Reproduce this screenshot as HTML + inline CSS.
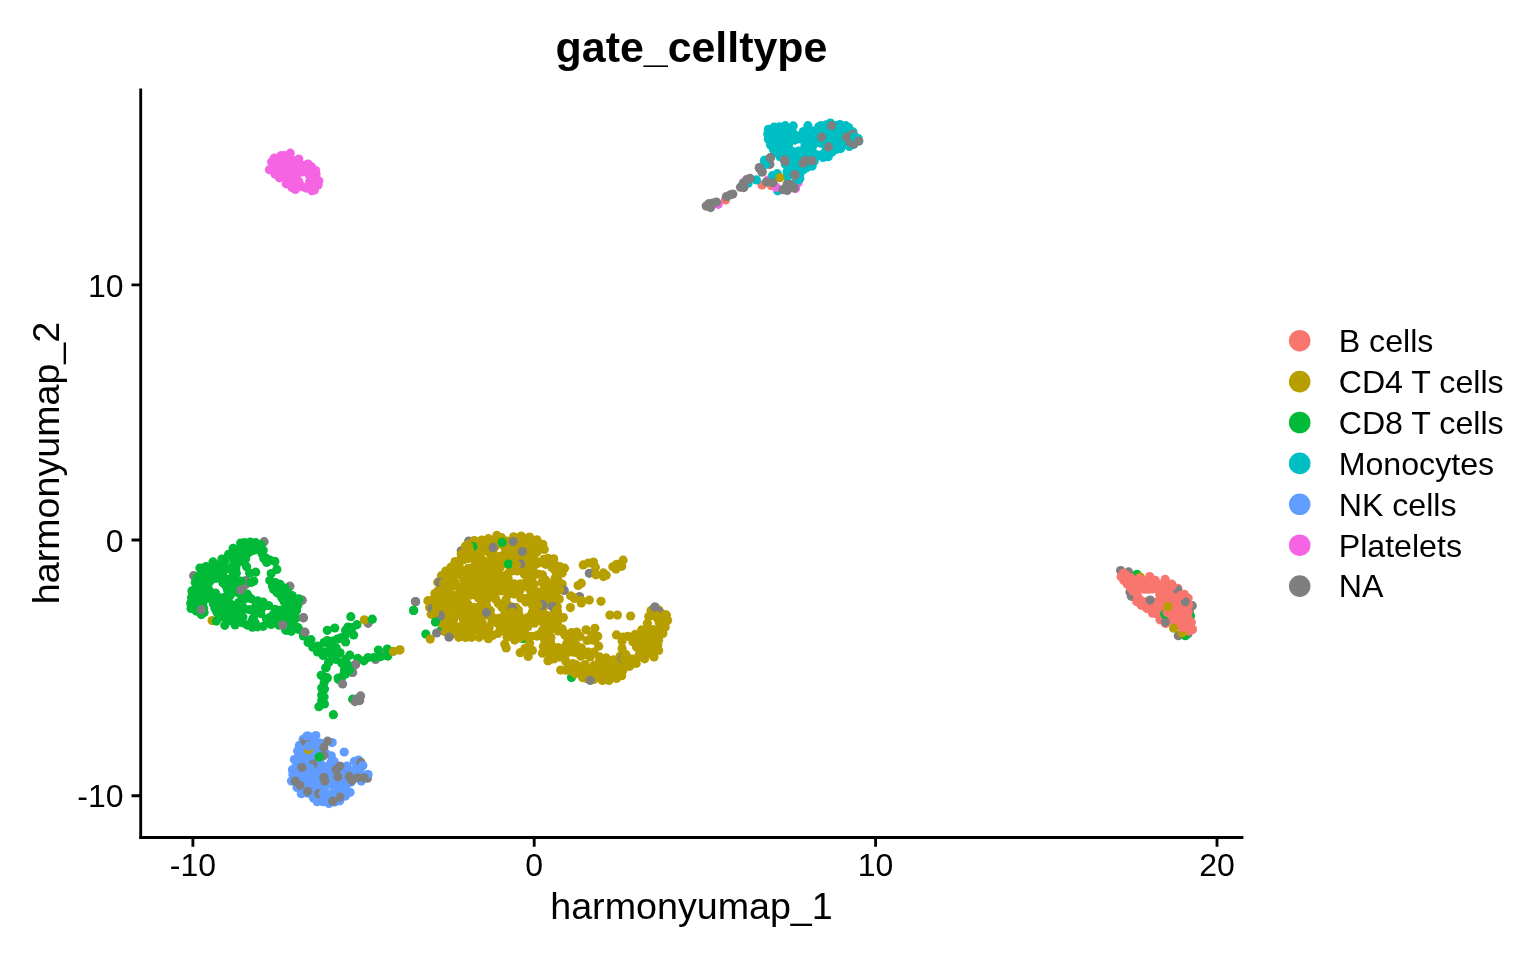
<!DOCTYPE html>
<html><head><meta charset="utf-8"><title>gate_celltype</title>
<style>
html,body{margin:0;padding:0;background:#fff;}
body{width:1536px;height:960px;overflow:hidden;position:relative;font-family:"Liberation Sans",sans-serif;color:#000;}
svg{position:absolute;left:0;top:0;}
text{font-family:"Liberation Sans",sans-serif;fill:#000;}
.tk{font-size:32px;}
.ax{font-size:37.65px;}
.lg{font-size:32.15px;}
.ttl{font-size:42.9px;font-weight:bold;}
</style></head><body>
<svg width="1536" height="960" viewBox="0 0 1536 960">
<rect width="1536" height="960" fill="#fff"/>
<g id="points">
<circle cx="292.2" cy="176.4" r="4.6" fill="#F564E3"/>
<circle cx="292.5" cy="169.0" r="4.6" fill="#F564E3"/>
<circle cx="312.6" cy="182.0" r="4.6" fill="#F564E3"/>
<circle cx="312.1" cy="173.5" r="4.6" fill="#F564E3"/>
<circle cx="316.1" cy="174.1" r="4.6" fill="#F564E3"/>
<circle cx="288.5" cy="169.2" r="4.6" fill="#F564E3"/>
<circle cx="282.7" cy="177.1" r="4.6" fill="#F564E3"/>
<circle cx="292.4" cy="161.4" r="4.6" fill="#F564E3"/>
<circle cx="289.4" cy="156.6" r="4.6" fill="#F564E3"/>
<circle cx="280.9" cy="164.1" r="4.6" fill="#F564E3"/>
<circle cx="294.4" cy="181.3" r="4.6" fill="#F564E3"/>
<circle cx="290.3" cy="153.2" r="4.6" fill="#F564E3"/>
<circle cx="298.8" cy="159.1" r="4.6" fill="#F564E3"/>
<circle cx="275.1" cy="168.0" r="4.6" fill="#F564E3"/>
<circle cx="290.8" cy="173.9" r="4.6" fill="#F564E3"/>
<circle cx="286.2" cy="183.8" r="4.6" fill="#F564E3"/>
<circle cx="311.6" cy="166.9" r="4.6" fill="#F564E3"/>
<circle cx="295.9" cy="170.1" r="4.6" fill="#F564E3"/>
<circle cx="298.8" cy="181.4" r="4.6" fill="#F564E3"/>
<circle cx="301.9" cy="186.6" r="4.6" fill="#F564E3"/>
<circle cx="294.4" cy="164.4" r="4.6" fill="#F564E3"/>
<circle cx="301.7" cy="168.5" r="4.6" fill="#F564E3"/>
<circle cx="295.9" cy="160.6" r="4.6" fill="#F564E3"/>
<circle cx="280.1" cy="173.4" r="4.6" fill="#F564E3"/>
<circle cx="309.6" cy="182.0" r="4.6" fill="#F564E3"/>
<circle cx="276.3" cy="164.9" r="4.6" fill="#F564E3"/>
<circle cx="286.3" cy="173.9" r="4.6" fill="#F564E3"/>
<circle cx="295.3" cy="189.4" r="4.6" fill="#F564E3"/>
<circle cx="282.7" cy="161.4" r="4.6" fill="#F564E3"/>
<circle cx="294.1" cy="174.0" r="4.6" fill="#F564E3"/>
<circle cx="274.4" cy="158.1" r="4.6" fill="#F564E3"/>
<circle cx="314.5" cy="177.7" r="4.6" fill="#F564E3"/>
<circle cx="302.7" cy="172.0" r="4.6" fill="#F564E3"/>
<circle cx="306.2" cy="169.1" r="4.6" fill="#F564E3"/>
<circle cx="311.9" cy="190.8" r="4.6" fill="#F564E3"/>
<circle cx="279.4" cy="161.6" r="4.6" fill="#F564E3"/>
<circle cx="315.6" cy="170.6" r="4.6" fill="#F564E3"/>
<circle cx="288.7" cy="162.0" r="4.6" fill="#F564E3"/>
<circle cx="308.1" cy="164.1" r="4.6" fill="#F564E3"/>
<circle cx="281.2" cy="155.6" r="4.6" fill="#F564E3"/>
<circle cx="318.8" cy="180.9" r="4.6" fill="#F564E3"/>
<circle cx="304.5" cy="165.3" r="4.6" fill="#F564E3"/>
<circle cx="279.3" cy="170.0" r="4.6" fill="#F564E3"/>
<circle cx="314.4" cy="190.0" r="4.6" fill="#F564E3"/>
<circle cx="284.4" cy="165.7" r="4.6" fill="#F564E3"/>
<circle cx="296.0" cy="178.1" r="4.6" fill="#F564E3"/>
<circle cx="279.4" cy="177.8" r="4.6" fill="#F564E3"/>
<circle cx="271.6" cy="161.9" r="4.6" fill="#F564E3"/>
<circle cx="318.1" cy="185.0" r="4.6" fill="#F564E3"/>
<circle cx="309.1" cy="172.6" r="4.6" fill="#F564E3"/>
<circle cx="309.6" cy="176.0" r="4.6" fill="#F564E3"/>
<circle cx="275.0" cy="161.0" r="4.6" fill="#F564E3"/>
<circle cx="275.0" cy="174.1" r="4.6" fill="#F564E3"/>
<circle cx="286.6" cy="176.9" r="4.6" fill="#F564E3"/>
<circle cx="291.2" cy="165.4" r="4.6" fill="#F564E3"/>
<circle cx="284.1" cy="169.8" r="4.6" fill="#F564E3"/>
<circle cx="297.5" cy="185.1" r="4.6" fill="#F564E3"/>
<circle cx="299.7" cy="172.2" r="4.6" fill="#F564E3"/>
<circle cx="310.6" cy="184.4" r="4.6" fill="#F564E3"/>
<circle cx="291.9" cy="187.5" r="4.6" fill="#F564E3"/>
<circle cx="299.3" cy="166.4" r="4.6" fill="#F564E3"/>
<circle cx="289.4" cy="181.5" r="4.6" fill="#F564E3"/>
<circle cx="314.4" cy="185.5" r="4.6" fill="#F564E3"/>
<circle cx="285.0" cy="155.6" r="4.6" fill="#F564E3"/>
<circle cx="269.4" cy="169.7" r="4.6" fill="#F564E3"/>
<circle cx="306.2" cy="188.1" r="4.6" fill="#F564E3"/>
<circle cx="801.2" cy="138.8" r="4.6" fill="#7F7F7F"/>
<circle cx="807.0" cy="147.2" r="4.6" fill="#7F7F7F"/>
<circle cx="769.9" cy="164.3" r="4.6" fill="#7F7F7F"/>
<circle cx="768.9" cy="163.9" r="4.6" fill="#7F7F7F"/>
<circle cx="748.1" cy="183.2" r="4.6" fill="#00BFC4"/>
<circle cx="777.7" cy="190.8" r="4.6" fill="#00BFC4"/>
<circle cx="725.5" cy="199.9" r="4.6" fill="#F8766D"/>
<circle cx="762.0" cy="185.0" r="4.6" fill="#F8766D"/>
<circle cx="771.5" cy="185.7" r="4.6" fill="#F8766D"/>
<circle cx="718.2" cy="204.3" r="4.6" fill="#F564E3"/>
<circle cx="746.8" cy="179.3" r="4.6" fill="#F564E3"/>
<circle cx="767.8" cy="180.0" r="4.6" fill="#F564E3"/>
<circle cx="776.2" cy="187.2" r="4.6" fill="#F564E3"/>
<circle cx="798.1" cy="182.8" r="4.6" fill="#F564E3"/>
<circle cx="795.5" cy="188.6" r="4.6" fill="#F564E3"/>
<circle cx="854.6" cy="140.0" r="4.6" fill="#00BFC4"/>
<circle cx="818.7" cy="126.8" r="4.6" fill="#00BFC4"/>
<circle cx="767.7" cy="134.1" r="4.6" fill="#00BFC4"/>
<circle cx="846.7" cy="131.8" r="4.6" fill="#00BFC4"/>
<circle cx="814.3" cy="161.0" r="4.6" fill="#00BFC4"/>
<circle cx="836.2" cy="149.4" r="4.6" fill="#00BFC4"/>
<circle cx="792.2" cy="166.5" r="4.6" fill="#00BFC4"/>
<circle cx="826.0" cy="124.9" r="4.6" fill="#00BFC4"/>
<circle cx="780.3" cy="143.7" r="4.6" fill="#00BFC4"/>
<circle cx="814.3" cy="153.8" r="4.6" fill="#00BFC4"/>
<circle cx="810.4" cy="142.3" r="4.6" fill="#00BFC4"/>
<circle cx="810.2" cy="134.8" r="4.6" fill="#00BFC4"/>
<circle cx="780.9" cy="131.2" r="4.6" fill="#00BFC4"/>
<circle cx="773.5" cy="149.4" r="4.6" fill="#00BFC4"/>
<circle cx="796.8" cy="180.0" r="4.6" fill="#00BFC4"/>
<circle cx="800.4" cy="163.2" r="4.6" fill="#00BFC4"/>
<circle cx="787.4" cy="175.6" r="4.6" fill="#00BFC4"/>
<circle cx="835.5" cy="130.4" r="4.6" fill="#00BFC4"/>
<circle cx="833.2" cy="133.9" r="4.6" fill="#00BFC4"/>
<circle cx="808.1" cy="148.0" r="4.6" fill="#00BFC4"/>
<circle cx="791.1" cy="163.8" r="4.6" fill="#00BFC4"/>
<circle cx="779.8" cy="134.5" r="4.6" fill="#00BFC4"/>
<circle cx="797.9" cy="158.8" r="4.6" fill="#00BFC4"/>
<circle cx="828.0" cy="139.1" r="4.6" fill="#00BFC4"/>
<circle cx="842.7" cy="143.2" r="4.6" fill="#00BFC4"/>
<circle cx="792.3" cy="151.3" r="4.6" fill="#00BFC4"/>
<circle cx="780.5" cy="146.5" r="4.6" fill="#00BFC4"/>
<circle cx="852.1" cy="136.2" r="4.6" fill="#00BFC4"/>
<circle cx="806.1" cy="143.6" r="4.6" fill="#00BFC4"/>
<circle cx="802.6" cy="151.4" r="4.6" fill="#00BFC4"/>
<circle cx="801.2" cy="135.2" r="4.6" fill="#00BFC4"/>
<circle cx="770.6" cy="145.0" r="4.6" fill="#00BFC4"/>
<circle cx="794.8" cy="140.1" r="4.6" fill="#00BFC4"/>
<circle cx="784.8" cy="152.1" r="4.6" fill="#00BFC4"/>
<circle cx="796.0" cy="154.0" r="4.6" fill="#00BFC4"/>
<circle cx="803.3" cy="166.0" r="4.6" fill="#00BFC4"/>
<circle cx="768.4" cy="139.2" r="4.6" fill="#00BFC4"/>
<circle cx="788.1" cy="158.6" r="4.6" fill="#00BFC4"/>
<circle cx="780.4" cy="138.6" r="4.6" fill="#00BFC4"/>
<circle cx="773.4" cy="133.9" r="4.6" fill="#00BFC4"/>
<circle cx="826.8" cy="147.6" r="4.6" fill="#00BFC4"/>
<circle cx="791.3" cy="131.9" r="4.6" fill="#00BFC4"/>
<circle cx="853.0" cy="131.9" r="4.6" fill="#00BFC4"/>
<circle cx="803.9" cy="137.9" r="4.6" fill="#00BFC4"/>
<circle cx="783.4" cy="142.4" r="4.6" fill="#00BFC4"/>
<circle cx="830.0" cy="135.8" r="4.6" fill="#00BFC4"/>
<circle cx="807.9" cy="125.7" r="4.6" fill="#00BFC4"/>
<circle cx="839.9" cy="124.6" r="4.6" fill="#00BFC4"/>
<circle cx="787.2" cy="129.9" r="4.6" fill="#00BFC4"/>
<circle cx="782.8" cy="135.4" r="4.6" fill="#00BFC4"/>
<circle cx="785.2" cy="125.7" r="4.6" fill="#00BFC4"/>
<circle cx="807.0" cy="167.6" r="4.6" fill="#00BFC4"/>
<circle cx="788.8" cy="143.9" r="4.6" fill="#00BFC4"/>
<circle cx="786.1" cy="155.9" r="4.6" fill="#00BFC4"/>
<circle cx="845.0" cy="144.3" r="4.6" fill="#00BFC4"/>
<circle cx="787.0" cy="162.5" r="4.6" fill="#00BFC4"/>
<circle cx="825.2" cy="134.4" r="4.6" fill="#00BFC4"/>
<circle cx="825.5" cy="151.4" r="4.6" fill="#00BFC4"/>
<circle cx="811.8" cy="130.8" r="4.6" fill="#00BFC4"/>
<circle cx="810.9" cy="150.4" r="4.6" fill="#00BFC4"/>
<circle cx="847.2" cy="141.9" r="4.6" fill="#00BFC4"/>
<circle cx="805.1" cy="156.2" r="4.6" fill="#00BFC4"/>
<circle cx="840.1" cy="144.0" r="4.6" fill="#00BFC4"/>
<circle cx="858.1" cy="138.4" r="4.6" fill="#00BFC4"/>
<circle cx="850.0" cy="139.1" r="4.6" fill="#00BFC4"/>
<circle cx="840.6" cy="148.6" r="4.6" fill="#00BFC4"/>
<circle cx="810.0" cy="138.0" r="4.6" fill="#00BFC4"/>
<circle cx="790.2" cy="139.9" r="4.6" fill="#00BFC4"/>
<circle cx="788.1" cy="168.3" r="4.6" fill="#00BFC4"/>
<circle cx="823.8" cy="154.1" r="4.6" fill="#00BFC4"/>
<circle cx="768.4" cy="129.3" r="4.6" fill="#00BFC4"/>
<circle cx="774.2" cy="127.1" r="4.6" fill="#00BFC4"/>
<circle cx="789.5" cy="150.1" r="4.6" fill="#00BFC4"/>
<circle cx="817.2" cy="131.1" r="4.6" fill="#00BFC4"/>
<circle cx="799.0" cy="170.9" r="4.6" fill="#00BFC4"/>
<circle cx="830.4" cy="123.1" r="4.6" fill="#00BFC4"/>
<circle cx="842.8" cy="135.6" r="4.6" fill="#00BFC4"/>
<circle cx="835.2" cy="143.3" r="4.6" fill="#00BFC4"/>
<circle cx="810.2" cy="163.1" r="4.6" fill="#00BFC4"/>
<circle cx="812.1" cy="166.1" r="4.6" fill="#00BFC4"/>
<circle cx="836.0" cy="139.5" r="4.6" fill="#00BFC4"/>
<circle cx="812.6" cy="146.4" r="4.6" fill="#00BFC4"/>
<circle cx="829.8" cy="126.9" r="4.6" fill="#00BFC4"/>
<circle cx="838.1" cy="135.6" r="4.6" fill="#00BFC4"/>
<circle cx="819.6" cy="136.0" r="4.6" fill="#00BFC4"/>
<circle cx="832.3" cy="131.0" r="4.6" fill="#00BFC4"/>
<circle cx="799.8" cy="174.2" r="4.6" fill="#00BFC4"/>
<circle cx="819.4" cy="155.2" r="4.6" fill="#00BFC4"/>
<circle cx="844.9" cy="139.5" r="4.6" fill="#00BFC4"/>
<circle cx="858.8" cy="141.0" r="4.6" fill="#00BFC4"/>
<circle cx="796.7" cy="167.9" r="4.6" fill="#00BFC4"/>
<circle cx="822.5" cy="130.7" r="4.6" fill="#00BFC4"/>
<circle cx="795.9" cy="172.1" r="4.6" fill="#00BFC4"/>
<circle cx="809.8" cy="154.6" r="4.6" fill="#00BFC4"/>
<circle cx="772.3" cy="132.2" r="4.6" fill="#00BFC4"/>
<circle cx="828.2" cy="156.7" r="4.6" fill="#00BFC4"/>
<circle cx="798.7" cy="151.1" r="4.6" fill="#00BFC4"/>
<circle cx="853.7" cy="144.3" r="4.6" fill="#00BFC4"/>
<circle cx="823.7" cy="140.2" r="4.6" fill="#00BFC4"/>
<circle cx="829.4" cy="142.5" r="4.6" fill="#00BFC4"/>
<circle cx="836.2" cy="125.7" r="4.6" fill="#00BFC4"/>
<circle cx="802.3" cy="157.9" r="4.6" fill="#00BFC4"/>
<circle cx="800.5" cy="138.9" r="4.6" fill="#00BFC4"/>
<circle cx="777.1" cy="153.0" r="4.6" fill="#00BFC4"/>
<circle cx="808.0" cy="132.0" r="4.6" fill="#00BFC4"/>
<circle cx="800.9" cy="154.2" r="4.6" fill="#00BFC4"/>
<circle cx="792.4" cy="157.8" r="4.6" fill="#00BFC4"/>
<circle cx="826.0" cy="142.7" r="4.6" fill="#00BFC4"/>
<circle cx="795.0" cy="163.4" r="4.6" fill="#00BFC4"/>
<circle cx="831.8" cy="138.7" r="4.6" fill="#00BFC4"/>
<circle cx="806.2" cy="151.1" r="4.6" fill="#00BFC4"/>
<circle cx="793.2" cy="125.9" r="4.6" fill="#00BFC4"/>
<circle cx="814.4" cy="140.2" r="4.6" fill="#00BFC4"/>
<circle cx="789.8" cy="155.0" r="4.6" fill="#00BFC4"/>
<circle cx="773.8" cy="142.6" r="4.6" fill="#00BFC4"/>
<circle cx="805.3" cy="163.9" r="4.6" fill="#00BFC4"/>
<circle cx="779.3" cy="126.8" r="4.6" fill="#00BFC4"/>
<circle cx="848.6" cy="135.2" r="4.6" fill="#00BFC4"/>
<circle cx="792.7" cy="174.7" r="4.6" fill="#00BFC4"/>
<circle cx="797.3" cy="175.8" r="4.6" fill="#00BFC4"/>
<circle cx="793.9" cy="134.1" r="4.6" fill="#00BFC4"/>
<circle cx="849.3" cy="146.5" r="4.6" fill="#00BFC4"/>
<circle cx="820.9" cy="125.7" r="4.6" fill="#00BFC4"/>
<circle cx="778.7" cy="150.0" r="4.6" fill="#00BFC4"/>
<circle cx="790.8" cy="172.0" r="4.6" fill="#00BFC4"/>
<circle cx="810.5" cy="158.4" r="4.6" fill="#00BFC4"/>
<circle cx="837.9" cy="127.6" r="4.6" fill="#00BFC4"/>
<circle cx="827.6" cy="131.4" r="4.6" fill="#00BFC4"/>
<circle cx="831.8" cy="152.3" r="4.6" fill="#00BFC4"/>
<circle cx="845.7" cy="125.7" r="4.6" fill="#00BFC4"/>
<circle cx="772.0" cy="139.2" r="4.6" fill="#00BFC4"/>
<circle cx="777.1" cy="131.0" r="4.6" fill="#00BFC4"/>
<circle cx="823.1" cy="157.4" r="4.6" fill="#00BFC4"/>
<circle cx="840.5" cy="131.3" r="4.6" fill="#00BFC4"/>
<circle cx="817.0" cy="142.4" r="4.6" fill="#00BFC4"/>
<circle cx="776.4" cy="139.4" r="4.6" fill="#00BFC4"/>
<circle cx="841.1" cy="138.3" r="4.6" fill="#00BFC4"/>
<circle cx="787.0" cy="147.2" r="4.6" fill="#00BFC4"/>
<circle cx="806.4" cy="158.1" r="4.6" fill="#00BFC4"/>
<circle cx="803.4" cy="169.8" r="4.6" fill="#00BFC4"/>
<circle cx="785.2" cy="164.0" r="4.6" fill="#00BFC4"/>
<circle cx="784.6" cy="158.9" r="4.6" fill="#00BFC4"/>
<circle cx="831.1" cy="148.0" r="4.6" fill="#00BFC4"/>
<circle cx="788.0" cy="134.0" r="4.6" fill="#00BFC4"/>
<circle cx="799.8" cy="178.5" r="4.6" fill="#00BFC4"/>
<circle cx="804.9" cy="146.0" r="4.6" fill="#00BFC4"/>
<circle cx="780.1" cy="156.7" r="4.6" fill="#00BFC4"/>
<circle cx="848.6" cy="127.5" r="4.6" fill="#00BFC4"/>
<circle cx="825.2" cy="127.8" r="4.6" fill="#00BFC4"/>
<circle cx="806.3" cy="135.0" r="4.6" fill="#00BFC4"/>
<circle cx="770.4" cy="134.1" r="4.6" fill="#00BFC4"/>
<circle cx="777.0" cy="146.4" r="4.6" fill="#00BFC4"/>
<circle cx="787.2" cy="140.0" r="4.6" fill="#00BFC4"/>
<circle cx="821.2" cy="143.3" r="4.6" fill="#00BFC4"/>
<circle cx="803.4" cy="131.5" r="4.6" fill="#00BFC4"/>
<circle cx="764.5" cy="160.2" r="4.6" fill="#00BFC4"/>
<circle cx="765.3" cy="164.6" r="4.6" fill="#00BFC4"/>
<circle cx="763.1" cy="166.0" r="4.6" fill="#00BFC4"/>
<circle cx="756.5" cy="179.9" r="4.6" fill="#00BFC4"/>
<circle cx="772.6" cy="175.5" r="4.6" fill="#00BFC4"/>
<circle cx="777.3" cy="173.7" r="4.6" fill="#00BFC4"/>
<circle cx="787.1" cy="177.0" r="4.6" fill="#00BFC4"/>
<circle cx="798.1" cy="179.9" r="4.6" fill="#00BFC4"/>
<circle cx="790.8" cy="174.1" r="4.6" fill="#00BFC4"/>
<circle cx="787.1" cy="171.9" r="4.6" fill="#00BFC4"/>
<circle cx="779.9" cy="177.7" r="4.6" fill="#B79F00"/>
<circle cx="831.5" cy="125.7" r="4.6" fill="#7F7F7F"/>
<circle cx="821.6" cy="137.1" r="4.6" fill="#7F7F7F"/>
<circle cx="828.4" cy="146.8" r="4.6" fill="#7F7F7F"/>
<circle cx="846.4" cy="137.0" r="4.6" fill="#7F7F7F"/>
<circle cx="853.0" cy="134.1" r="4.6" fill="#7F7F7F"/>
<circle cx="850.1" cy="142.1" r="4.6" fill="#7F7F7F"/>
<circle cx="853.7" cy="143.9" r="4.6" fill="#7F7F7F"/>
<circle cx="784.4" cy="160.3" r="4.6" fill="#7F7F7F"/>
<circle cx="785.2" cy="161.4" r="4.6" fill="#7F7F7F"/>
<circle cx="812.1" cy="160.7" r="4.6" fill="#7F7F7F"/>
<circle cx="805.6" cy="160.3" r="4.6" fill="#7F7F7F"/>
<circle cx="803.0" cy="163.2" r="4.6" fill="#7F7F7F"/>
<circle cx="795.0" cy="174.5" r="4.6" fill="#7F7F7F"/>
<circle cx="770.4" cy="157.8" r="4.6" fill="#7F7F7F"/>
<circle cx="759.3" cy="167.6" r="4.6" fill="#7F7F7F"/>
<circle cx="762.2" cy="172.0" r="4.6" fill="#7F7F7F"/>
<circle cx="854.8" cy="137.0" r="4.6" fill="#00BFC4"/>
<circle cx="858.7" cy="141.0" r="4.6" fill="#7F7F7F"/>
<circle cx="706.2" cy="206.1" r="4.6" fill="#7F7F7F"/>
<circle cx="710.6" cy="207.6" r="4.6" fill="#7F7F7F"/>
<circle cx="712.8" cy="203.2" r="4.6" fill="#7F7F7F"/>
<circle cx="709.1" cy="203.6" r="4.6" fill="#7F7F7F"/>
<circle cx="716.4" cy="202.1" r="4.6" fill="#7F7F7F"/>
<circle cx="726.3" cy="196.7" r="4.6" fill="#7F7F7F"/>
<circle cx="730.3" cy="194.8" r="4.6" fill="#7F7F7F"/>
<circle cx="732.8" cy="194.1" r="4.6" fill="#7F7F7F"/>
<circle cx="740.5" cy="187.2" r="4.6" fill="#7F7F7F"/>
<circle cx="743.8" cy="187.6" r="4.6" fill="#7F7F7F"/>
<circle cx="743.4" cy="182.8" r="4.6" fill="#7F7F7F"/>
<circle cx="747.0" cy="179.9" r="4.6" fill="#7F7F7F"/>
<circle cx="750.0" cy="178.4" r="4.6" fill="#7F7F7F"/>
<circle cx="759.4" cy="168.2" r="4.6" fill="#7F7F7F"/>
<circle cx="762.0" cy="171.9" r="4.6" fill="#7F7F7F"/>
<circle cx="770.4" cy="157.7" r="4.6" fill="#7F7F7F"/>
<circle cx="766.4" cy="182.1" r="4.6" fill="#7F7F7F"/>
<circle cx="772.9" cy="182.8" r="4.6" fill="#7F7F7F"/>
<circle cx="784.6" cy="159.8" r="4.6" fill="#7F7F7F"/>
<circle cx="803.9" cy="162.0" r="4.6" fill="#7F7F7F"/>
<circle cx="794.8" cy="175.2" r="4.6" fill="#7F7F7F"/>
<circle cx="782.8" cy="189.7" r="4.6" fill="#7F7F7F"/>
<circle cx="787.1" cy="190.5" r="4.6" fill="#7F7F7F"/>
<circle cx="790.8" cy="184.3" r="4.6" fill="#7F7F7F"/>
<circle cx="794.4" cy="187.9" r="4.6" fill="#7F7F7F"/>
<circle cx="789.3" cy="187.9" r="4.6" fill="#7F7F7F"/>
<circle cx="787.1" cy="184.3" r="4.6" fill="#7F7F7F"/>
<circle cx="1120.6" cy="570.5" r="4.6" fill="#7F7F7F"/>
<circle cx="1128.6" cy="571.9" r="4.6" fill="#7F7F7F"/>
<circle cx="1130.0" cy="592.1" r="4.6" fill="#7F7F7F"/>
<circle cx="1131.4" cy="596.3" r="4.6" fill="#7F7F7F"/>
<circle cx="1140.3" cy="603.8" r="4.6" fill="#7F7F7F"/>
<circle cx="1192.3" cy="605.7" r="4.6" fill="#7F7F7F"/>
<circle cx="1189.5" cy="612.2" r="4.6" fill="#7F7F7F"/>
<circle cx="1175.0" cy="621.6" r="4.6" fill="#7F7F7F"/>
<circle cx="1178.3" cy="635.7" r="4.6" fill="#7F7F7F"/>
<circle cx="1188.1" cy="633.8" r="4.6" fill="#7F7F7F"/>
<circle cx="1137.0" cy="574.3" r="4.6" fill="#00BA38"/>
<circle cx="1190.5" cy="616.0" r="4.6" fill="#00BA38"/>
<circle cx="1164.7" cy="614.1" r="4.6" fill="#00BA38"/>
<circle cx="1185.3" cy="635.7" r="4.6" fill="#00BA38"/>
<circle cx="1140.3" cy="577.1" r="4.6" fill="#B79F00"/>
<circle cx="1184.8" cy="624.9" r="4.6" fill="#B79F00"/>
<circle cx="1170.1" cy="602.0" r="4.6" fill="#F8766D"/>
<circle cx="1130.3" cy="581.1" r="4.6" fill="#F8766D"/>
<circle cx="1130.9" cy="577.6" r="4.6" fill="#F8766D"/>
<circle cx="1188.1" cy="598.2" r="4.6" fill="#F8766D"/>
<circle cx="1177.8" cy="588.3" r="4.6" fill="#F8766D"/>
<circle cx="1147.6" cy="604.6" r="4.6" fill="#F8766D"/>
<circle cx="1152.1" cy="609.3" r="4.6" fill="#F8766D"/>
<circle cx="1149.7" cy="576.6" r="4.6" fill="#F8766D"/>
<circle cx="1172.4" cy="612.2" r="4.6" fill="#F8766D"/>
<circle cx="1170.3" cy="586.0" r="4.6" fill="#F8766D"/>
<circle cx="1154.5" cy="605.0" r="4.6" fill="#F8766D"/>
<circle cx="1179.4" cy="617.1" r="4.6" fill="#F8766D"/>
<circle cx="1127.2" cy="584.1" r="4.6" fill="#F8766D"/>
<circle cx="1177.3" cy="596.9" r="4.6" fill="#F8766D"/>
<circle cx="1162.5" cy="614.1" r="4.6" fill="#F8766D"/>
<circle cx="1151.1" cy="585.6" r="4.6" fill="#F8766D"/>
<circle cx="1172.1" cy="598.1" r="4.6" fill="#F8766D"/>
<circle cx="1144.6" cy="589.2" r="4.6" fill="#F8766D"/>
<circle cx="1164.3" cy="608.6" r="4.6" fill="#F8766D"/>
<circle cx="1188.6" cy="604.8" r="4.6" fill="#F8766D"/>
<circle cx="1165.2" cy="579.4" r="4.6" fill="#F8766D"/>
<circle cx="1188.1" cy="631.0" r="4.6" fill="#F8766D"/>
<circle cx="1163.8" cy="602.1" r="4.6" fill="#F8766D"/>
<circle cx="1171.9" cy="590.0" r="4.6" fill="#F8766D"/>
<circle cx="1191.4" cy="622.6" r="4.6" fill="#F8766D"/>
<circle cx="1155.3" cy="580.4" r="4.6" fill="#F8766D"/>
<circle cx="1165.4" cy="593.1" r="4.6" fill="#F8766D"/>
<circle cx="1173.6" cy="601.5" r="4.6" fill="#F8766D"/>
<circle cx="1159.7" cy="594.3" r="4.6" fill="#F8766D"/>
<circle cx="1141.4" cy="605.3" r="4.6" fill="#F8766D"/>
<circle cx="1184.5" cy="605.6" r="4.6" fill="#F8766D"/>
<circle cx="1185.0" cy="621.5" r="4.6" fill="#F8766D"/>
<circle cx="1121.1" cy="576.8" r="4.6" fill="#F8766D"/>
<circle cx="1188.1" cy="612.2" r="4.6" fill="#F8766D"/>
<circle cx="1168.4" cy="608.7" r="4.6" fill="#F8766D"/>
<circle cx="1179.3" cy="600.9" r="4.6" fill="#F8766D"/>
<circle cx="1163.7" cy="597.9" r="4.6" fill="#F8766D"/>
<circle cx="1137.4" cy="584.6" r="4.6" fill="#F8766D"/>
<circle cx="1171.4" cy="606.3" r="4.6" fill="#F8766D"/>
<circle cx="1159.1" cy="584.6" r="4.6" fill="#F8766D"/>
<circle cx="1136.6" cy="601.5" r="4.6" fill="#F8766D"/>
<circle cx="1164.0" cy="585.5" r="4.6" fill="#F8766D"/>
<circle cx="1152.1" cy="602.2" r="4.6" fill="#F8766D"/>
<circle cx="1181.9" cy="622.1" r="4.6" fill="#F8766D"/>
<circle cx="1177.3" cy="604.7" r="4.6" fill="#F8766D"/>
<circle cx="1141.4" cy="600.7" r="4.6" fill="#F8766D"/>
<circle cx="1152.2" cy="589.0" r="4.6" fill="#F8766D"/>
<circle cx="1184.3" cy="608.9" r="4.6" fill="#F8766D"/>
<circle cx="1164.2" cy="616.1" r="4.6" fill="#F8766D"/>
<circle cx="1181.6" cy="614.3" r="4.6" fill="#F8766D"/>
<circle cx="1165.6" cy="623.5" r="4.6" fill="#F8766D"/>
<circle cx="1181.8" cy="597.7" r="4.6" fill="#F8766D"/>
<circle cx="1174.9" cy="592.2" r="4.6" fill="#F8766D"/>
<circle cx="1175.2" cy="609.1" r="4.6" fill="#F8766D"/>
<circle cx="1123.9" cy="580.6" r="4.6" fill="#F8766D"/>
<circle cx="1171.7" cy="584.1" r="4.6" fill="#F8766D"/>
<circle cx="1123.4" cy="573.3" r="4.6" fill="#F8766D"/>
<circle cx="1160.0" cy="619.8" r="4.6" fill="#F8766D"/>
<circle cx="1176.1" cy="621.3" r="4.6" fill="#F8766D"/>
<circle cx="1161.6" cy="590.2" r="4.6" fill="#F8766D"/>
<circle cx="1166.5" cy="621.1" r="4.6" fill="#F8766D"/>
<circle cx="1138.7" cy="588.7" r="4.6" fill="#F8766D"/>
<circle cx="1166.3" cy="613.2" r="4.6" fill="#F8766D"/>
<circle cx="1179.4" cy="594.4" r="4.6" fill="#F8766D"/>
<circle cx="1177.4" cy="612.4" r="4.6" fill="#F8766D"/>
<circle cx="1157.7" cy="588.5" r="4.6" fill="#F8766D"/>
<circle cx="1159.2" cy="600.1" r="4.6" fill="#F8766D"/>
<circle cx="1184.4" cy="594.4" r="4.6" fill="#F8766D"/>
<circle cx="1182.5" cy="627.7" r="4.6" fill="#F8766D"/>
<circle cx="1146.1" cy="584.9" r="4.6" fill="#F8766D"/>
<circle cx="1179.0" cy="609.5" r="4.6" fill="#F8766D"/>
<circle cx="1127.2" cy="575.9" r="4.6" fill="#F8766D"/>
<circle cx="1157.0" cy="604.4" r="4.6" fill="#F8766D"/>
<circle cx="1159.6" cy="609.3" r="4.6" fill="#F8766D"/>
<circle cx="1139.4" cy="578.5" r="4.6" fill="#F8766D"/>
<circle cx="1188.1" cy="617.9" r="4.6" fill="#F8766D"/>
<circle cx="1182.9" cy="616.8" r="4.6" fill="#F8766D"/>
<circle cx="1186.7" cy="626.3" r="4.6" fill="#F8766D"/>
<circle cx="1167.1" cy="588.6" r="4.6" fill="#F8766D"/>
<circle cx="1161.9" cy="605.8" r="4.6" fill="#F8766D"/>
<circle cx="1171.6" cy="620.5" r="4.6" fill="#F8766D"/>
<circle cx="1192.3" cy="629.6" r="4.6" fill="#F8766D"/>
<circle cx="1168.8" cy="592.1" r="4.6" fill="#F8766D"/>
<circle cx="1147.3" cy="601.5" r="4.6" fill="#F8766D"/>
<circle cx="1148.3" cy="589.2" r="4.6" fill="#F8766D"/>
<circle cx="1174.1" cy="617.3" r="4.6" fill="#F8766D"/>
<circle cx="1152.5" cy="613.2" r="4.6" fill="#F8766D"/>
<circle cx="1166.7" cy="596.6" r="4.6" fill="#F8766D"/>
<circle cx="1157.4" cy="613.9" r="4.6" fill="#F8766D"/>
<circle cx="1145.3" cy="581.5" r="4.6" fill="#F8766D"/>
<circle cx="1166.1" cy="606.2" r="4.6" fill="#F8766D"/>
<circle cx="1155.9" cy="585.2" r="4.6" fill="#F8766D"/>
<circle cx="1153.3" cy="582.5" r="4.6" fill="#F8766D"/>
<circle cx="1137.5" cy="595.4" r="4.6" fill="#F8766D"/>
<circle cx="1183.4" cy="600.6" r="4.6" fill="#F8766D"/>
<circle cx="1175.0" cy="625.4" r="4.6" fill="#F8766D"/>
<circle cx="1141.8" cy="585.3" r="4.6" fill="#F8766D"/>
<circle cx="1146.9" cy="608.5" r="4.6" fill="#F8766D"/>
<circle cx="1132.8" cy="590.7" r="4.6" fill="#F8766D"/>
<circle cx="1148.4" cy="580.5" r="4.6" fill="#F8766D"/>
<circle cx="1138.4" cy="581.8" r="4.6" fill="#F8766D"/>
<circle cx="1180.3" cy="605.2" r="4.6" fill="#F8766D"/>
<circle cx="1156.0" cy="609.6" r="4.6" fill="#F8766D"/>
<circle cx="1177.6" cy="589.8" r="4.6" fill="#7F7F7F"/>
<circle cx="1185.3" cy="601.8" r="4.6" fill="#7F7F7F"/>
<circle cx="1150.2" cy="600.1" r="4.6" fill="#7F7F7F"/>
<circle cx="1165.3" cy="622.1" r="4.6" fill="#7F7F7F"/>
<circle cx="1164.7" cy="614.1" r="4.6" fill="#00BA38"/>
<circle cx="1167.1" cy="612.5" r="4.6" fill="#F8766D"/>
<circle cx="1130.5" cy="587.4" r="4.6" fill="#F8766D"/>
<circle cx="1167.7" cy="606.6" r="4.6" fill="#B79F00"/>
<circle cx="1173.6" cy="628.2" r="4.6" fill="#B79F00"/>
<circle cx="1182.0" cy="632.9" r="4.6" fill="#B79F00"/>
<circle cx="1182.5" cy="627.7" r="4.6" fill="#F8766D"/>
<circle cx="1192.3" cy="629.6" r="4.6" fill="#F8766D"/>
<circle cx="1172.2" cy="586.0" r="4.6" fill="#F8766D"/>
<circle cx="1180.6" cy="595.4" r="4.6" fill="#F8766D"/>
<circle cx="334.0" cy="767.6" r="4.6" fill="#619CFF"/>
<circle cx="341.0" cy="784.6" r="4.6" fill="#619CFF"/>
<circle cx="311.0" cy="783.6" r="4.6" fill="#619CFF"/>
<circle cx="297.1" cy="787.6" r="4.6" fill="#619CFF"/>
<circle cx="306.4" cy="746.9" r="4.6" fill="#619CFF"/>
<circle cx="313.6" cy="792.0" r="4.6" fill="#619CFF"/>
<circle cx="313.5" cy="797.9" r="4.6" fill="#619CFF"/>
<circle cx="346.8" cy="766.1" r="4.6" fill="#619CFF"/>
<circle cx="324.3" cy="782.3" r="4.6" fill="#619CFF"/>
<circle cx="321.0" cy="750.1" r="4.6" fill="#619CFF"/>
<circle cx="325.1" cy="786.9" r="4.6" fill="#619CFF"/>
<circle cx="320.8" cy="764.2" r="4.6" fill="#619CFF"/>
<circle cx="334.2" cy="764.4" r="4.6" fill="#619CFF"/>
<circle cx="313.1" cy="763.6" r="4.6" fill="#619CFF"/>
<circle cx="345.3" cy="780.4" r="4.6" fill="#619CFF"/>
<circle cx="331.3" cy="755.8" r="4.6" fill="#619CFF"/>
<circle cx="315.3" cy="742.9" r="4.6" fill="#619CFF"/>
<circle cx="303.2" cy="747.4" r="4.6" fill="#619CFF"/>
<circle cx="310.1" cy="752.3" r="4.6" fill="#619CFF"/>
<circle cx="313.7" cy="782.8" r="4.6" fill="#619CFF"/>
<circle cx="343.5" cy="771.4" r="4.6" fill="#619CFF"/>
<circle cx="352.5" cy="778.4" r="4.6" fill="#619CFF"/>
<circle cx="334.9" cy="795.2" r="4.6" fill="#619CFF"/>
<circle cx="303.1" cy="762.8" r="4.6" fill="#619CFF"/>
<circle cx="367.9" cy="774.5" r="4.6" fill="#619CFF"/>
<circle cx="321.6" cy="787.2" r="4.6" fill="#619CFF"/>
<circle cx="318.2" cy="752.1" r="4.6" fill="#619CFF"/>
<circle cx="305.0" cy="790.8" r="4.6" fill="#619CFF"/>
<circle cx="337.9" cy="767.9" r="4.6" fill="#619CFF"/>
<circle cx="320.9" cy="794.6" r="4.6" fill="#619CFF"/>
<circle cx="323.5" cy="774.6" r="4.6" fill="#619CFF"/>
<circle cx="306.8" cy="787.0" r="4.6" fill="#619CFF"/>
<circle cx="301.7" cy="759.1" r="4.6" fill="#619CFF"/>
<circle cx="348.4" cy="779.8" r="4.6" fill="#619CFF"/>
<circle cx="331.0" cy="762.5" r="4.6" fill="#619CFF"/>
<circle cx="297.0" cy="774.6" r="4.6" fill="#619CFF"/>
<circle cx="355.3" cy="774.3" r="4.6" fill="#619CFF"/>
<circle cx="307.9" cy="793.2" r="4.6" fill="#619CFF"/>
<circle cx="321.7" cy="779.3" r="4.6" fill="#619CFF"/>
<circle cx="313.3" cy="750.4" r="4.6" fill="#619CFF"/>
<circle cx="312.9" cy="756.6" r="4.6" fill="#619CFF"/>
<circle cx="342.1" cy="790.2" r="4.6" fill="#619CFF"/>
<circle cx="303.9" cy="771.0" r="4.6" fill="#619CFF"/>
<circle cx="297.6" cy="751.1" r="4.6" fill="#619CFF"/>
<circle cx="314.0" cy="766.4" r="4.6" fill="#619CFF"/>
<circle cx="326.4" cy="780.0" r="4.6" fill="#619CFF"/>
<circle cx="326.1" cy="770.4" r="4.6" fill="#619CFF"/>
<circle cx="334.7" cy="772.1" r="4.6" fill="#619CFF"/>
<circle cx="295.1" cy="767.8" r="4.6" fill="#619CFF"/>
<circle cx="310.1" cy="767.3" r="4.6" fill="#619CFF"/>
<circle cx="324.3" cy="792.5" r="4.6" fill="#619CFF"/>
<circle cx="299.5" cy="787.1" r="4.6" fill="#619CFF"/>
<circle cx="303.7" cy="787.2" r="4.6" fill="#619CFF"/>
<circle cx="344.7" cy="787.6" r="4.6" fill="#619CFF"/>
<circle cx="328.7" cy="783.9" r="4.6" fill="#619CFF"/>
<circle cx="320.1" cy="768.6" r="4.6" fill="#619CFF"/>
<circle cx="313.2" cy="739.4" r="4.6" fill="#619CFF"/>
<circle cx="315.8" cy="735.6" r="4.6" fill="#619CFF"/>
<circle cx="316.2" cy="770.3" r="4.6" fill="#619CFF"/>
<circle cx="301.7" cy="774.3" r="4.6" fill="#619CFF"/>
<circle cx="326.3" cy="795.4" r="4.6" fill="#619CFF"/>
<circle cx="296.5" cy="760.3" r="4.6" fill="#619CFF"/>
<circle cx="323.6" cy="798.2" r="4.6" fill="#619CFF"/>
<circle cx="328.8" cy="775.8" r="4.6" fill="#619CFF"/>
<circle cx="329.5" cy="771.8" r="4.6" fill="#619CFF"/>
<circle cx="350.1" cy="792.3" r="4.6" fill="#619CFF"/>
<circle cx="299.4" cy="745.4" r="4.6" fill="#619CFF"/>
<circle cx="297.5" cy="778.8" r="4.6" fill="#619CFF"/>
<circle cx="334.1" cy="761.4" r="4.6" fill="#619CFF"/>
<circle cx="299.6" cy="766.3" r="4.6" fill="#619CFF"/>
<circle cx="339.8" cy="800.8" r="4.6" fill="#619CFF"/>
<circle cx="297.9" cy="772.3" r="4.6" fill="#619CFF"/>
<circle cx="306.1" cy="784.3" r="4.6" fill="#619CFF"/>
<circle cx="320.1" cy="743.1" r="4.6" fill="#619CFF"/>
<circle cx="334.6" cy="801.9" r="4.6" fill="#619CFF"/>
<circle cx="329.0" cy="803.6" r="4.6" fill="#619CFF"/>
<circle cx="316.8" cy="779.4" r="4.6" fill="#619CFF"/>
<circle cx="328.3" cy="799.9" r="4.6" fill="#619CFF"/>
<circle cx="332.3" cy="774.4" r="4.6" fill="#619CFF"/>
<circle cx="319.5" cy="774.7" r="4.6" fill="#619CFF"/>
<circle cx="332.5" cy="783.4" r="4.6" fill="#619CFF"/>
<circle cx="311.4" cy="747.7" r="4.6" fill="#619CFF"/>
<circle cx="317.4" cy="796.5" r="4.6" fill="#619CFF"/>
<circle cx="303.2" cy="739.3" r="4.6" fill="#619CFF"/>
<circle cx="308.3" cy="736.1" r="4.6" fill="#619CFF"/>
<circle cx="311.3" cy="788.4" r="4.6" fill="#619CFF"/>
<circle cx="354.3" cy="761.4" r="4.6" fill="#619CFF"/>
<circle cx="304.8" cy="776.4" r="4.6" fill="#619CFF"/>
<circle cx="317.9" cy="786.5" r="4.6" fill="#619CFF"/>
<circle cx="327.6" cy="767.7" r="4.6" fill="#619CFF"/>
<circle cx="332.7" cy="799.0" r="4.6" fill="#619CFF"/>
<circle cx="299.7" cy="752.5" r="4.6" fill="#619CFF"/>
<circle cx="308.1" cy="740.1" r="4.6" fill="#619CFF"/>
<circle cx="354.6" cy="770.7" r="4.6" fill="#619CFF"/>
<circle cx="303.8" cy="779.2" r="4.6" fill="#619CFF"/>
<circle cx="319.2" cy="792.5" r="4.6" fill="#619CFF"/>
<circle cx="308.5" cy="754.4" r="4.6" fill="#619CFF"/>
<circle cx="324.8" cy="766.5" r="4.6" fill="#619CFF"/>
<circle cx="306.4" cy="767.0" r="4.6" fill="#619CFF"/>
<circle cx="299.0" cy="763.2" r="4.6" fill="#619CFF"/>
<circle cx="310.5" cy="743.7" r="4.6" fill="#619CFF"/>
<circle cx="294.3" cy="759.5" r="4.6" fill="#619CFF"/>
<circle cx="311.5" cy="778.2" r="4.6" fill="#619CFF"/>
<circle cx="322.9" cy="801.7" r="4.6" fill="#619CFF"/>
<circle cx="315.3" cy="776.0" r="4.6" fill="#619CFF"/>
<circle cx="302.4" cy="754.3" r="4.6" fill="#619CFF"/>
<circle cx="313.8" cy="760.0" r="4.6" fill="#619CFF"/>
<circle cx="317.8" cy="763.4" r="4.6" fill="#619CFF"/>
<circle cx="346.5" cy="791.2" r="4.6" fill="#619CFF"/>
<circle cx="316.9" cy="754.7" r="4.6" fill="#619CFF"/>
<circle cx="292.9" cy="774.5" r="4.6" fill="#619CFF"/>
<circle cx="362.7" cy="765.6" r="4.6" fill="#619CFF"/>
<circle cx="317.2" cy="801.7" r="4.6" fill="#619CFF"/>
<circle cx="339.8" cy="772.3" r="4.6" fill="#619CFF"/>
<circle cx="318.4" cy="783.6" r="4.6" fill="#619CFF"/>
<circle cx="351.0" cy="782.0" r="4.6" fill="#619CFF"/>
<circle cx="339.5" cy="796.2" r="4.6" fill="#619CFF"/>
<circle cx="307.3" cy="779.7" r="4.6" fill="#619CFF"/>
<circle cx="320.8" cy="770.4" r="4.6" fill="#619CFF"/>
<circle cx="305.3" cy="750.8" r="4.6" fill="#619CFF"/>
<circle cx="309.8" cy="760.7" r="4.6" fill="#619CFF"/>
<circle cx="337.5" cy="791.0" r="4.6" fill="#619CFF"/>
<circle cx="335.1" cy="778.8" r="4.6" fill="#619CFF"/>
<circle cx="330.2" cy="794.2" r="4.6" fill="#619CFF"/>
<circle cx="360.8" cy="775.2" r="4.6" fill="#619CFF"/>
<circle cx="337.8" cy="798.2" r="4.6" fill="#619CFF"/>
<circle cx="349.7" cy="770.4" r="4.6" fill="#619CFF"/>
<circle cx="339.6" cy="786.2" r="4.6" fill="#619CFF"/>
<circle cx="341.6" cy="767.0" r="4.6" fill="#619CFF"/>
<circle cx="306.2" cy="759.9" r="4.6" fill="#619CFF"/>
<circle cx="325.8" cy="753.3" r="4.6" fill="#619CFF"/>
<circle cx="361.3" cy="781.1" r="4.6" fill="#619CFF"/>
<circle cx="358.5" cy="760.0" r="4.6" fill="#619CFF"/>
<circle cx="299.0" cy="755.3" r="4.6" fill="#619CFF"/>
<circle cx="301.3" cy="793.7" r="4.6" fill="#619CFF"/>
<circle cx="347.4" cy="783.7" r="4.6" fill="#619CFF"/>
<circle cx="312.4" cy="771.7" r="4.6" fill="#619CFF"/>
<circle cx="338.6" cy="776.2" r="4.6" fill="#619CFF"/>
<circle cx="318.1" cy="758.7" r="4.6" fill="#619CFF"/>
<circle cx="291.5" cy="781.1" r="4.6" fill="#619CFF"/>
<circle cx="345.4" cy="796.1" r="4.6" fill="#619CFF"/>
<circle cx="357.0" cy="767.3" r="4.6" fill="#619CFF"/>
<circle cx="322.3" cy="756.6" r="4.6" fill="#619CFF"/>
<circle cx="292.4" cy="769.8" r="4.6" fill="#619CFF"/>
<circle cx="306.6" cy="762.9" r="4.6" fill="#619CFF"/>
<circle cx="351.0" cy="775.0" r="4.6" fill="#619CFF"/>
<circle cx="360.8" cy="767.8" r="4.6" fill="#619CFF"/>
<circle cx="358.8" cy="772.6" r="4.6" fill="#619CFF"/>
<circle cx="329.9" cy="779.4" r="4.6" fill="#619CFF"/>
<circle cx="319.9" cy="799.3" r="4.6" fill="#619CFF"/>
<circle cx="305.3" cy="744.7" r="4.6" fill="#619CFF"/>
<circle cx="317.6" cy="748.3" r="4.6" fill="#619CFF"/>
<circle cx="334.0" cy="786.6" r="4.6" fill="#619CFF"/>
<circle cx="301.2" cy="783.6" r="4.6" fill="#619CFF"/>
<circle cx="357.2" cy="764.5" r="4.6" fill="#619CFF"/>
<circle cx="305.1" cy="741.2" r="4.6" fill="#7F7F7F"/>
<circle cx="323.8" cy="755.3" r="4.6" fill="#7F7F7F"/>
<circle cx="313.0" cy="764.2" r="4.6" fill="#7F7F7F"/>
<circle cx="339.8" cy="797.0" r="4.6" fill="#7F7F7F"/>
<circle cx="360.8" cy="762.3" r="4.6" fill="#7F7F7F"/>
<circle cx="367.4" cy="778.2" r="4.6" fill="#7F7F7F"/>
<circle cx="308.3" cy="749.7" r="4.6" fill="#B79F00"/>
<circle cx="344.2" cy="752.0" r="4.6" fill="#619CFF"/>
<circle cx="332.2" cy="742.6" r="4.6" fill="#619CFF"/>
<circle cx="308.3" cy="746.2" r="4.6" fill="#619CFF"/>
<circle cx="310.2" cy="767.9" r="4.6" fill="#619CFF"/>
<circle cx="332.1" cy="794.2" r="4.6" fill="#619CFF"/>
<circle cx="362.7" cy="765.6" r="4.6" fill="#619CFF"/>
<circle cx="367.9" cy="774.5" r="4.6" fill="#619CFF"/>
<circle cx="306.9" cy="736.1" r="4.6" fill="#619CFF"/>
<circle cx="327.6" cy="741.2" r="4.6" fill="#7F7F7F"/>
<circle cx="323.8" cy="747.3" r="4.6" fill="#7F7F7F"/>
<circle cx="301.8" cy="767.5" r="4.6" fill="#7F7F7F"/>
<circle cx="339.8" cy="766.1" r="4.6" fill="#7F7F7F"/>
<circle cx="336.0" cy="769.8" r="4.6" fill="#7F7F7F"/>
<circle cx="337.9" cy="776.8" r="4.6" fill="#7F7F7F"/>
<circle cx="323.8" cy="777.3" r="4.6" fill="#7F7F7F"/>
<circle cx="324.8" cy="781.1" r="4.6" fill="#7F7F7F"/>
<circle cx="295.2" cy="781.1" r="4.6" fill="#7F7F7F"/>
<circle cx="299.9" cy="785.3" r="4.6" fill="#7F7F7F"/>
<circle cx="307.7" cy="791.4" r="4.6" fill="#7F7F7F"/>
<circle cx="332.7" cy="801.2" r="4.6" fill="#7F7F7F"/>
<circle cx="349.1" cy="776.4" r="4.6" fill="#7F7F7F"/>
<circle cx="351.9" cy="780.6" r="4.6" fill="#7F7F7F"/>
<circle cx="357.6" cy="777.8" r="4.6" fill="#7F7F7F"/>
<circle cx="364.1" cy="777.8" r="4.6" fill="#7F7F7F"/>
<circle cx="318.7" cy="793.7" r="4.6" fill="#7F7F7F"/>
<circle cx="323.3" cy="793.7" r="4.6" fill="#619CFF"/>
<circle cx="319.1" cy="756.9" r="4.6" fill="#00BA38"/>
<circle cx="264.1" cy="541.7" r="4.6" fill="#7F7F7F"/>
<circle cx="193.6" cy="575.7" r="4.6" fill="#7F7F7F"/>
<circle cx="289.9" cy="586.2" r="4.6" fill="#7F7F7F"/>
<circle cx="302.1" cy="600.3" r="4.6" fill="#7F7F7F"/>
<circle cx="245.8" cy="580.6" r="4.6" fill="#7F7F7F"/>
<circle cx="245.4" cy="584.8" r="4.6" fill="#7F7F7F"/>
<circle cx="212.1" cy="620.6" r="4.6" fill="#B79F00"/>
<circle cx="245.1" cy="548.9" r="4.6" fill="#00BA38"/>
<circle cx="230.5" cy="594.9" r="4.6" fill="#00BA38"/>
<circle cx="280.1" cy="584.4" r="4.6" fill="#00BA38"/>
<circle cx="270.5" cy="617.1" r="4.6" fill="#00BA38"/>
<circle cx="223.3" cy="605.5" r="4.6" fill="#00BA38"/>
<circle cx="197.6" cy="608.9" r="4.6" fill="#00BA38"/>
<circle cx="260.8" cy="544.5" r="4.6" fill="#00BA38"/>
<circle cx="266.0" cy="558.1" r="4.6" fill="#00BA38"/>
<circle cx="276.8" cy="569.4" r="4.6" fill="#00BA38"/>
<circle cx="287.4" cy="604.7" r="4.6" fill="#00BA38"/>
<circle cx="244.4" cy="542.7" r="4.6" fill="#00BA38"/>
<circle cx="194.8" cy="589.8" r="4.6" fill="#00BA38"/>
<circle cx="275.1" cy="609.3" r="4.6" fill="#00BA38"/>
<circle cx="261.5" cy="608.6" r="4.6" fill="#00BA38"/>
<circle cx="238.2" cy="592.8" r="4.6" fill="#00BA38"/>
<circle cx="228.9" cy="606.7" r="4.6" fill="#00BA38"/>
<circle cx="234.2" cy="616.8" r="4.6" fill="#00BA38"/>
<circle cx="201.3" cy="614.6" r="4.6" fill="#00BA38"/>
<circle cx="201.3" cy="586.5" r="4.6" fill="#00BA38"/>
<circle cx="207.7" cy="569.1" r="4.6" fill="#00BA38"/>
<circle cx="229.7" cy="617.4" r="4.6" fill="#00BA38"/>
<circle cx="224.9" cy="578.5" r="4.6" fill="#00BA38"/>
<circle cx="297.9" cy="605.0" r="4.6" fill="#00BA38"/>
<circle cx="276.7" cy="585.4" r="4.6" fill="#00BA38"/>
<circle cx="263.5" cy="606.3" r="4.6" fill="#00BA38"/>
<circle cx="224.8" cy="561.5" r="4.6" fill="#00BA38"/>
<circle cx="191.0" cy="608.5" r="4.6" fill="#00BA38"/>
<circle cx="223.9" cy="564.8" r="4.6" fill="#00BA38"/>
<circle cx="218.9" cy="614.7" r="4.6" fill="#00BA38"/>
<circle cx="208.9" cy="589.7" r="4.6" fill="#00BA38"/>
<circle cx="296.5" cy="610.6" r="4.6" fill="#00BA38"/>
<circle cx="244.6" cy="553.6" r="4.6" fill="#00BA38"/>
<circle cx="284.7" cy="618.8" r="4.6" fill="#00BA38"/>
<circle cx="268.7" cy="605.6" r="4.6" fill="#00BA38"/>
<circle cx="276.1" cy="617.1" r="4.6" fill="#00BA38"/>
<circle cx="239.4" cy="608.9" r="4.6" fill="#00BA38"/>
<circle cx="233.9" cy="553.4" r="4.6" fill="#00BA38"/>
<circle cx="288.4" cy="621.0" r="4.6" fill="#00BA38"/>
<circle cx="296.0" cy="618.1" r="4.6" fill="#00BA38"/>
<circle cx="225.9" cy="585.7" r="4.6" fill="#00BA38"/>
<circle cx="221.3" cy="578.6" r="4.6" fill="#00BA38"/>
<circle cx="287.0" cy="596.7" r="4.6" fill="#00BA38"/>
<circle cx="215.8" cy="578.3" r="4.6" fill="#00BA38"/>
<circle cx="297.9" cy="627.5" r="4.6" fill="#00BA38"/>
<circle cx="202.7" cy="604.1" r="4.6" fill="#00BA38"/>
<circle cx="271.2" cy="573.6" r="4.6" fill="#00BA38"/>
<circle cx="201.0" cy="574.0" r="4.6" fill="#00BA38"/>
<circle cx="212.4" cy="578.5" r="4.6" fill="#00BA38"/>
<circle cx="191.9" cy="590.9" r="4.6" fill="#00BA38"/>
<circle cx="241.9" cy="557.6" r="4.6" fill="#00BA38"/>
<circle cx="275.4" cy="582.5" r="4.6" fill="#00BA38"/>
<circle cx="274.5" cy="621.8" r="4.6" fill="#00BA38"/>
<circle cx="280.1" cy="610.4" r="4.6" fill="#00BA38"/>
<circle cx="204.1" cy="612.5" r="4.6" fill="#00BA38"/>
<circle cx="263.2" cy="626.3" r="4.6" fill="#00BA38"/>
<circle cx="240.0" cy="554.3" r="4.6" fill="#00BA38"/>
<circle cx="284.4" cy="593.5" r="4.6" fill="#00BA38"/>
<circle cx="245.6" cy="598.6" r="4.6" fill="#00BA38"/>
<circle cx="247.4" cy="594.2" r="4.6" fill="#00BA38"/>
<circle cx="225.0" cy="609.1" r="4.6" fill="#00BA38"/>
<circle cx="253.2" cy="618.3" r="4.6" fill="#00BA38"/>
<circle cx="235.7" cy="569.9" r="4.6" fill="#00BA38"/>
<circle cx="232.6" cy="589.1" r="4.6" fill="#00BA38"/>
<circle cx="233.2" cy="548.3" r="4.6" fill="#00BA38"/>
<circle cx="223.7" cy="597.5" r="4.6" fill="#00BA38"/>
<circle cx="235.2" cy="561.6" r="4.6" fill="#00BA38"/>
<circle cx="249.1" cy="609.6" r="4.6" fill="#00BA38"/>
<circle cx="254.8" cy="549.9" r="4.6" fill="#00BA38"/>
<circle cx="282.0" cy="598.1" r="4.6" fill="#00BA38"/>
<circle cx="262.1" cy="553.7" r="4.6" fill="#00BA38"/>
<circle cx="269.8" cy="580.6" r="4.6" fill="#00BA38"/>
<circle cx="278.3" cy="621.8" r="4.6" fill="#00BA38"/>
<circle cx="277.2" cy="592.8" r="4.6" fill="#00BA38"/>
<circle cx="214.6" cy="575.0" r="4.6" fill="#00BA38"/>
<circle cx="266.4" cy="618.8" r="4.6" fill="#00BA38"/>
<circle cx="260.0" cy="606.1" r="4.6" fill="#00BA38"/>
<circle cx="215.7" cy="593.2" r="4.6" fill="#00BA38"/>
<circle cx="196.8" cy="605.3" r="4.6" fill="#00BA38"/>
<circle cx="232.8" cy="558.0" r="4.6" fill="#00BA38"/>
<circle cx="240.6" cy="620.9" r="4.6" fill="#00BA38"/>
<circle cx="213.0" cy="561.9" r="4.6" fill="#00BA38"/>
<circle cx="247.6" cy="553.5" r="4.6" fill="#00BA38"/>
<circle cx="210.3" cy="573.6" r="4.6" fill="#00BA38"/>
<circle cx="242.6" cy="622.8" r="4.6" fill="#00BA38"/>
<circle cx="243.6" cy="562.2" r="4.6" fill="#00BA38"/>
<circle cx="240.8" cy="612.9" r="4.6" fill="#00BA38"/>
<circle cx="203.6" cy="569.7" r="4.6" fill="#00BA38"/>
<circle cx="252.4" cy="627.2" r="4.6" fill="#00BA38"/>
<circle cx="233.2" cy="573.2" r="4.6" fill="#00BA38"/>
<circle cx="280.8" cy="616.6" r="4.6" fill="#00BA38"/>
<circle cx="221.8" cy="610.5" r="4.6" fill="#00BA38"/>
<circle cx="238.7" cy="618.8" r="4.6" fill="#00BA38"/>
<circle cx="263.1" cy="602.0" r="4.6" fill="#00BA38"/>
<circle cx="273.6" cy="614.5" r="4.6" fill="#00BA38"/>
<circle cx="207.5" cy="585.8" r="4.6" fill="#00BA38"/>
<circle cx="249.4" cy="547.1" r="4.6" fill="#00BA38"/>
<circle cx="203.6" cy="608.5" r="4.6" fill="#00BA38"/>
<circle cx="204.8" cy="581.2" r="4.6" fill="#00BA38"/>
<circle cx="282.8" cy="589.6" r="4.6" fill="#00BA38"/>
<circle cx="287.6" cy="591.9" r="4.6" fill="#00BA38"/>
<circle cx="240.8" cy="581.1" r="4.6" fill="#00BA38"/>
<circle cx="190.7" cy="603.3" r="4.6" fill="#00BA38"/>
<circle cx="197.2" cy="601.9" r="4.6" fill="#00BA38"/>
<circle cx="200.0" cy="604.7" r="4.6" fill="#00BA38"/>
<circle cx="216.9" cy="612.2" r="4.6" fill="#00BA38"/>
<circle cx="252.0" cy="621.1" r="4.6" fill="#00BA38"/>
<circle cx="216.3" cy="621.1" r="4.6" fill="#00BA38"/>
<circle cx="207.9" cy="598.4" r="4.6" fill="#00BA38"/>
<circle cx="233.5" cy="605.7" r="4.6" fill="#00BA38"/>
<circle cx="247.4" cy="625.1" r="4.6" fill="#00BA38"/>
<circle cx="228.2" cy="614.7" r="4.6" fill="#00BA38"/>
<circle cx="242.8" cy="606.7" r="4.6" fill="#00BA38"/>
<circle cx="251.1" cy="598.7" r="4.6" fill="#00BA38"/>
<circle cx="273.7" cy="589.6" r="4.6" fill="#00BA38"/>
<circle cx="289.0" cy="618.7" r="4.6" fill="#00BA38"/>
<circle cx="201.2" cy="597.4" r="4.6" fill="#00BA38"/>
<circle cx="231.2" cy="578.3" r="4.6" fill="#00BA38"/>
<circle cx="227.8" cy="596.9" r="4.6" fill="#00BA38"/>
<circle cx="233.8" cy="609.8" r="4.6" fill="#00BA38"/>
<circle cx="226.9" cy="581.3" r="4.6" fill="#00BA38"/>
<circle cx="255.1" cy="622.8" r="4.6" fill="#00BA38"/>
<circle cx="224.8" cy="625.3" r="4.6" fill="#00BA38"/>
<circle cx="260.2" cy="549.5" r="4.6" fill="#00BA38"/>
<circle cx="196.3" cy="611.1" r="4.6" fill="#00BA38"/>
<circle cx="263.2" cy="550.2" r="4.6" fill="#00BA38"/>
<circle cx="218.5" cy="573.2" r="4.6" fill="#00BA38"/>
<circle cx="279.1" cy="625.2" r="4.6" fill="#00BA38"/>
<circle cx="280.2" cy="594.6" r="4.6" fill="#00BA38"/>
<circle cx="240.7" cy="543.1" r="4.6" fill="#00BA38"/>
<circle cx="230.8" cy="608.5" r="4.6" fill="#00BA38"/>
<circle cx="227.5" cy="589.9" r="4.6" fill="#00BA38"/>
<circle cx="268.8" cy="622.3" r="4.6" fill="#00BA38"/>
<circle cx="291.4" cy="598.1" r="4.6" fill="#00BA38"/>
<circle cx="257.5" cy="626.8" r="4.6" fill="#00BA38"/>
<circle cx="242.9" cy="617.0" r="4.6" fill="#00BA38"/>
<circle cx="244.4" cy="545.6" r="4.6" fill="#00BA38"/>
<circle cx="204.6" cy="590.2" r="4.6" fill="#00BA38"/>
<circle cx="206.0" cy="566.6" r="4.6" fill="#00BA38"/>
<circle cx="213.0" cy="566.1" r="4.6" fill="#00BA38"/>
<circle cx="283.3" cy="612.6" r="4.6" fill="#00BA38"/>
<circle cx="292.2" cy="595.6" r="4.6" fill="#00BA38"/>
<circle cx="237.7" cy="582.4" r="4.6" fill="#00BA38"/>
<circle cx="220.5" cy="617.1" r="4.6" fill="#00BA38"/>
<circle cx="294.9" cy="602.0" r="4.6" fill="#00BA38"/>
<circle cx="217.4" cy="565.0" r="4.6" fill="#00BA38"/>
<circle cx="226.5" cy="569.0" r="4.6" fill="#00BA38"/>
<circle cx="218.9" cy="606.8" r="4.6" fill="#00BA38"/>
<circle cx="204.8" cy="574.4" r="4.6" fill="#00BA38"/>
<circle cx="207.8" cy="593.7" r="4.6" fill="#00BA38"/>
<circle cx="204.6" cy="597.1" r="4.6" fill="#00BA38"/>
<circle cx="215.0" cy="608.5" r="4.6" fill="#00BA38"/>
<circle cx="279.2" cy="614.7" r="4.6" fill="#00BA38"/>
<circle cx="212.2" cy="570.5" r="4.6" fill="#00BA38"/>
<circle cx="255.0" cy="613.6" r="4.6" fill="#00BA38"/>
<circle cx="284.3" cy="601.9" r="4.6" fill="#00BA38"/>
<circle cx="255.9" cy="605.2" r="4.6" fill="#00BA38"/>
<circle cx="237.4" cy="549.6" r="4.6" fill="#00BA38"/>
<circle cx="203.0" cy="593.2" r="4.6" fill="#00BA38"/>
<circle cx="198.1" cy="586.4" r="4.6" fill="#00BA38"/>
<circle cx="216.7" cy="569.9" r="4.6" fill="#00BA38"/>
<circle cx="245.6" cy="558.8" r="4.6" fill="#00BA38"/>
<circle cx="208.2" cy="577.6" r="4.6" fill="#00BA38"/>
<circle cx="212.7" cy="593.3" r="4.6" fill="#00BA38"/>
<circle cx="230.3" cy="586.9" r="4.6" fill="#00BA38"/>
<circle cx="242.1" cy="550.5" r="4.6" fill="#00BA38"/>
<circle cx="195.2" cy="582.5" r="4.6" fill="#00BA38"/>
<circle cx="288.8" cy="609.6" r="4.6" fill="#00BA38"/>
<circle cx="196.4" cy="597.9" r="4.6" fill="#00BA38"/>
<circle cx="251.2" cy="551.1" r="4.6" fill="#00BA38"/>
<circle cx="197.0" cy="592.7" r="4.6" fill="#00BA38"/>
<circle cx="292.2" cy="613.2" r="4.6" fill="#00BA38"/>
<circle cx="269.8" cy="560.0" r="4.6" fill="#00BA38"/>
<circle cx="278.9" cy="588.7" r="4.6" fill="#00BA38"/>
<circle cx="291.4" cy="606.4" r="4.6" fill="#00BA38"/>
<circle cx="284.8" cy="588.1" r="4.6" fill="#00BA38"/>
<circle cx="285.7" cy="630.0" r="4.6" fill="#00BA38"/>
<circle cx="203.5" cy="576.9" r="4.6" fill="#00BA38"/>
<circle cx="257.6" cy="600.8" r="4.6" fill="#00BA38"/>
<circle cx="221.9" cy="559.1" r="4.6" fill="#00BA38"/>
<circle cx="258.9" cy="608.6" r="4.6" fill="#00BA38"/>
<circle cx="253.1" cy="547.2" r="4.6" fill="#00BA38"/>
<circle cx="213.4" cy="597.0" r="4.6" fill="#00BA38"/>
<circle cx="234.8" cy="576.9" r="4.6" fill="#00BA38"/>
<circle cx="238.6" cy="602.5" r="4.6" fill="#00BA38"/>
<circle cx="246.6" cy="566.7" r="4.6" fill="#00BA38"/>
<circle cx="260.7" cy="613.6" r="4.6" fill="#00BA38"/>
<circle cx="233.2" cy="614.0" r="4.6" fill="#00BA38"/>
<circle cx="221.7" cy="600.8" r="4.6" fill="#00BA38"/>
<circle cx="201.1" cy="580.7" r="4.6" fill="#00BA38"/>
<circle cx="272.5" cy="586.3" r="4.6" fill="#00BA38"/>
<circle cx="235.9" cy="566.7" r="4.6" fill="#00BA38"/>
<circle cx="255.7" cy="542.7" r="4.6" fill="#00BA38"/>
<circle cx="285.1" cy="609.1" r="4.6" fill="#00BA38"/>
<circle cx="233.3" cy="565.1" r="4.6" fill="#00BA38"/>
<circle cx="224.2" cy="613.6" r="4.6" fill="#00BA38"/>
<circle cx="254.3" cy="610.4" r="4.6" fill="#00BA38"/>
<circle cx="231.4" cy="580.9" r="4.6" fill="#00BA38"/>
<circle cx="298.8" cy="598.9" r="4.6" fill="#00BA38"/>
<circle cx="227.3" cy="620.8" r="4.6" fill="#00BA38"/>
<circle cx="237.7" cy="605.5" r="4.6" fill="#00BA38"/>
<circle cx="242.8" cy="609.0" r="4.6" fill="#00BA38"/>
<circle cx="229.4" cy="602.7" r="4.6" fill="#00BA38"/>
<circle cx="271.2" cy="624.4" r="4.6" fill="#00BA38"/>
<circle cx="282.9" cy="621.8" r="4.6" fill="#00BA38"/>
<circle cx="222.8" cy="582.7" r="4.6" fill="#00BA38"/>
<circle cx="238.3" cy="561.1" r="4.6" fill="#00BA38"/>
<circle cx="290.5" cy="601.6" r="4.6" fill="#00BA38"/>
<circle cx="215.5" cy="600.7" r="4.6" fill="#00BA38"/>
<circle cx="219.1" cy="598.0" r="4.6" fill="#00BA38"/>
<circle cx="292.4" cy="622.7" r="4.6" fill="#00BA38"/>
<circle cx="224.4" cy="602.9" r="4.6" fill="#00BA38"/>
<circle cx="235.8" cy="589.1" r="4.6" fill="#00BA38"/>
<circle cx="228.5" cy="554.4" r="4.6" fill="#00BA38"/>
<circle cx="236.3" cy="573.3" r="4.6" fill="#00BA38"/>
<circle cx="289.8" cy="625.6" r="4.6" fill="#00BA38"/>
<circle cx="236.8" cy="559.0" r="4.6" fill="#00BA38"/>
<circle cx="294.6" cy="626.6" r="4.6" fill="#00BA38"/>
<circle cx="197.6" cy="576.9" r="4.6" fill="#00BA38"/>
<circle cx="226.6" cy="618.8" r="4.6" fill="#00BA38"/>
<circle cx="200.7" cy="589.9" r="4.6" fill="#00BA38"/>
<circle cx="250.1" cy="542.0" r="4.6" fill="#00BA38"/>
<circle cx="222.6" cy="574.4" r="4.6" fill="#00BA38"/>
<circle cx="220.9" cy="570.2" r="4.6" fill="#00BA38"/>
<circle cx="236.8" cy="613.7" r="4.6" fill="#00BA38"/>
<circle cx="274.9" cy="561.4" r="4.6" fill="#00BA38"/>
<circle cx="210.0" cy="581.5" r="4.6" fill="#00BA38"/>
<circle cx="291.3" cy="631.0" r="4.6" fill="#00BA38"/>
<circle cx="293.7" cy="618.9" r="4.6" fill="#00BA38"/>
<circle cx="242.0" cy="596.8" r="4.6" fill="#00BA38"/>
<circle cx="191.5" cy="597.5" r="4.6" fill="#00BA38"/>
<circle cx="287.8" cy="613.8" r="4.6" fill="#00BA38"/>
<circle cx="235.1" cy="624.9" r="4.6" fill="#00BA38"/>
<circle cx="199.9" cy="568.0" r="4.6" fill="#00BA38"/>
<circle cx="243.1" cy="592.7" r="4.6" fill="#00BA38"/>
<circle cx="263.8" cy="558.6" r="4.6" fill="#00BA38"/>
<circle cx="266.7" cy="562.4" r="4.6" fill="#00BA38"/>
<circle cx="231.5" cy="620.8" r="4.6" fill="#00BA38"/>
<circle cx="213.5" cy="604.1" r="4.6" fill="#00BA38"/>
<circle cx="235.6" cy="584.9" r="4.6" fill="#00BA38"/>
<circle cx="249.6" cy="573.1" r="4.6" fill="#00BA38"/>
<circle cx="255.7" cy="572.2" r="4.6" fill="#00BA38"/>
<circle cx="251.0" cy="582.5" r="4.6" fill="#00BA38"/>
<circle cx="253.8" cy="581.1" r="4.6" fill="#00BA38"/>
<circle cx="240.7" cy="590.0" r="4.6" fill="#7F7F7F"/>
<circle cx="201.3" cy="609.7" r="4.6" fill="#7F7F7F"/>
<circle cx="303.5" cy="617.7" r="4.6" fill="#7F7F7F"/>
<circle cx="282.4" cy="624.8" r="4.6" fill="#7F7F7F"/>
<circle cx="304.9" cy="632.3" r="4.6" fill="#7F7F7F"/>
<circle cx="368.1" cy="623.3" r="4.6" fill="#7F7F7F"/>
<circle cx="302.0" cy="600.1" r="4.6" fill="#7F7F7F"/>
<circle cx="375.6" cy="659.4" r="4.6" fill="#7F7F7F"/>
<circle cx="355.5" cy="664.5" r="4.6" fill="#7F7F7F"/>
<circle cx="352.7" cy="672.5" r="4.6" fill="#7F7F7F"/>
<circle cx="385.5" cy="655.2" r="4.6" fill="#7F7F7F"/>
<circle cx="364.4" cy="619.8" r="4.6" fill="#B79F00"/>
<circle cx="350.8" cy="616.7" r="4.6" fill="#00BA38"/>
<circle cx="372.3" cy="619.2" r="4.6" fill="#00BA38"/>
<circle cx="413.6" cy="610.4" r="4.6" fill="#00BA38"/>
<circle cx="327.3" cy="630.3" r="4.6" fill="#00BA38"/>
<circle cx="334.8" cy="628.0" r="4.6" fill="#00BA38"/>
<circle cx="356.9" cy="624.7" r="4.6" fill="#00BA38"/>
<circle cx="352.2" cy="627.5" r="4.6" fill="#00BA38"/>
<circle cx="348.0" cy="627.0" r="4.6" fill="#00BA38"/>
<circle cx="345.6" cy="630.3" r="4.6" fill="#00BA38"/>
<circle cx="349.4" cy="631.2" r="4.6" fill="#00BA38"/>
<circle cx="353.6" cy="635.0" r="4.6" fill="#00BA38"/>
<circle cx="344.7" cy="635.9" r="4.6" fill="#00BA38"/>
<circle cx="340.9" cy="637.8" r="4.6" fill="#00BA38"/>
<circle cx="337.2" cy="639.2" r="4.6" fill="#00BA38"/>
<circle cx="345.6" cy="642.0" r="4.6" fill="#00BA38"/>
<circle cx="332.5" cy="641.1" r="4.6" fill="#00BA38"/>
<circle cx="327.3" cy="640.6" r="4.6" fill="#00BA38"/>
<circle cx="324.1" cy="642.5" r="4.6" fill="#00BA38"/>
<circle cx="330.6" cy="646.2" r="4.6" fill="#00BA38"/>
<circle cx="336.2" cy="648.1" r="4.6" fill="#00BA38"/>
<circle cx="317.5" cy="646.2" r="4.6" fill="#00BA38"/>
<circle cx="320.3" cy="650.9" r="4.6" fill="#00BA38"/>
<circle cx="325.0" cy="651.9" r="4.6" fill="#00BA38"/>
<circle cx="330.6" cy="653.8" r="4.6" fill="#00BA38"/>
<circle cx="336.2" cy="653.8" r="4.6" fill="#00BA38"/>
<circle cx="340.0" cy="652.8" r="4.6" fill="#00BA38"/>
<circle cx="323.1" cy="655.6" r="4.6" fill="#00BA38"/>
<circle cx="317.5" cy="651.9" r="4.6" fill="#00BA38"/>
<circle cx="312.8" cy="647.2" r="4.6" fill="#00BA38"/>
<circle cx="308.1" cy="642.5" r="4.6" fill="#00BA38"/>
<circle cx="310.9" cy="639.7" r="4.6" fill="#00BA38"/>
<circle cx="303.4" cy="635.9" r="4.6" fill="#00BA38"/>
<circle cx="298.8" cy="629.4" r="4.6" fill="#00BA38"/>
<circle cx="291.2" cy="631.2" r="4.6" fill="#00BA38"/>
<circle cx="286.6" cy="630.3" r="4.6" fill="#00BA38"/>
<circle cx="294.1" cy="625.6" r="4.6" fill="#00BA38"/>
<circle cx="295.9" cy="618.1" r="4.6" fill="#00BA38"/>
<circle cx="295.9" cy="610.6" r="4.6" fill="#00BA38"/>
<circle cx="289.4" cy="613.4" r="4.6" fill="#00BA38"/>
<circle cx="292.2" cy="604.1" r="4.6" fill="#00BA38"/>
<circle cx="298.8" cy="599.4" r="4.6" fill="#00BA38"/>
<circle cx="285.6" cy="594.7" r="4.6" fill="#00BA38"/>
<circle cx="289.4" cy="621.9" r="4.6" fill="#00BA38"/>
<circle cx="283.8" cy="618.1" r="4.6" fill="#00BA38"/>
<circle cx="349.8" cy="655.2" r="4.6" fill="#00BA38"/>
<circle cx="345.6" cy="659.4" r="4.6" fill="#00BA38"/>
<circle cx="357.8" cy="658.4" r="4.6" fill="#00BA38"/>
<circle cx="363.9" cy="660.8" r="4.6" fill="#00BA38"/>
<circle cx="368.1" cy="657.5" r="4.6" fill="#00BA38"/>
<circle cx="373.8" cy="657.5" r="4.6" fill="#00BA38"/>
<circle cx="380.8" cy="656.6" r="4.6" fill="#00BA38"/>
<circle cx="378.4" cy="650.0" r="4.6" fill="#00BA38"/>
<circle cx="387.3" cy="649.1" r="4.6" fill="#00BA38"/>
<circle cx="387.8" cy="656.1" r="4.6" fill="#00BA38"/>
<circle cx="328.8" cy="662.2" r="4.6" fill="#00BA38"/>
<circle cx="325.9" cy="667.8" r="4.6" fill="#00BA38"/>
<circle cx="321.2" cy="675.3" r="4.6" fill="#00BA38"/>
<circle cx="326.9" cy="677.7" r="4.6" fill="#00BA38"/>
<circle cx="341.9" cy="663.1" r="4.6" fill="#00BA38"/>
<circle cx="347.5" cy="665.0" r="4.6" fill="#00BA38"/>
<circle cx="344.7" cy="669.7" r="4.6" fill="#00BA38"/>
<circle cx="349.4" cy="669.7" r="4.6" fill="#00BA38"/>
<circle cx="343.8" cy="674.4" r="4.6" fill="#00BA38"/>
<circle cx="338.1" cy="678.1" r="4.6" fill="#00BA38"/>
<circle cx="336.2" cy="659.4" r="4.6" fill="#00BA38"/>
<circle cx="304.8" cy="632.2" r="4.6" fill="#7F7F7F"/>
<circle cx="282.8" cy="625.2" r="4.6" fill="#7F7F7F"/>
<circle cx="303.4" cy="617.8" r="4.6" fill="#7F7F7F"/>
<circle cx="415.7" cy="601.7" r="4.6" fill="#7F7F7F"/>
<circle cx="393.4" cy="651.4" r="4.6" fill="#B79F00"/>
<circle cx="399.5" cy="650.0" r="4.6" fill="#B79F00"/>
<circle cx="352.7" cy="699.2" r="4.6" fill="#00BA38"/>
<circle cx="355.5" cy="664.5" r="4.6" fill="#7F7F7F"/>
<circle cx="352.2" cy="672.5" r="4.6" fill="#7F7F7F"/>
<circle cx="328.8" cy="662.2" r="4.6" fill="#00BA38"/>
<circle cx="325.9" cy="667.8" r="4.6" fill="#00BA38"/>
<circle cx="321.7" cy="675.3" r="4.6" fill="#00BA38"/>
<circle cx="327.3" cy="678.1" r="4.6" fill="#00BA38"/>
<circle cx="324.1" cy="682.8" r="4.6" fill="#00BA38"/>
<circle cx="321.7" cy="688.0" r="4.6" fill="#00BA38"/>
<circle cx="324.5" cy="688.9" r="4.6" fill="#00BA38"/>
<circle cx="321.7" cy="695.0" r="4.6" fill="#00BA38"/>
<circle cx="324.1" cy="696.9" r="4.6" fill="#00BA38"/>
<circle cx="321.7" cy="700.6" r="4.6" fill="#00BA38"/>
<circle cx="324.5" cy="703.9" r="4.6" fill="#00BA38"/>
<circle cx="318.9" cy="706.7" r="4.6" fill="#00BA38"/>
<circle cx="333.4" cy="714.7" r="4.6" fill="#00BA38"/>
<circle cx="341.9" cy="663.1" r="4.6" fill="#00BA38"/>
<circle cx="347.5" cy="665.0" r="4.6" fill="#00BA38"/>
<circle cx="344.7" cy="669.7" r="4.6" fill="#00BA38"/>
<circle cx="349.4" cy="670.2" r="4.6" fill="#00BA38"/>
<circle cx="345.6" cy="673.9" r="4.6" fill="#00BA38"/>
<circle cx="338.6" cy="679.5" r="4.6" fill="#00BA38"/>
<circle cx="341.9" cy="677.2" r="4.6" fill="#00BA38"/>
<circle cx="342.6" cy="683.9" r="4.6" fill="#7F7F7F"/>
<circle cx="360.6" cy="695.9" r="4.6" fill="#7F7F7F"/>
<circle cx="356.9" cy="698.8" r="4.6" fill="#7F7F7F"/>
<circle cx="355.0" cy="701.6" r="4.6" fill="#7F7F7F"/>
<circle cx="359.7" cy="700.6" r="4.6" fill="#7F7F7F"/>
<circle cx="468.7" cy="541.0" r="4.6" fill="#7F7F7F"/>
<circle cx="461.2" cy="550.8" r="4.6" fill="#7F7F7F"/>
<circle cx="439.2" cy="582.2" r="4.6" fill="#7F7F7F"/>
<circle cx="432.1" cy="608.5" r="4.6" fill="#7F7F7F"/>
<circle cx="512.3" cy="607.6" r="4.6" fill="#7F7F7F"/>
<circle cx="542.8" cy="604.8" r="4.6" fill="#7F7F7F"/>
<circle cx="520.7" cy="564.0" r="4.6" fill="#7F7F7F"/>
<circle cx="472.9" cy="546.6" r="4.6" fill="#00BA38"/>
<circle cx="432.1" cy="608.7" r="4.6" fill="#7F7F7F"/>
<circle cx="512.3" cy="607.2" r="4.6" fill="#7F7F7F"/>
<circle cx="542.8" cy="604.9" r="4.6" fill="#7F7F7F"/>
<circle cx="441.0" cy="630.2" r="4.6" fill="#00BA38"/>
<circle cx="425.8" cy="634.0" r="4.6" fill="#00BA38"/>
<circle cx="523.1" cy="638.7" r="4.6" fill="#00BA38"/>
<circle cx="589.3" cy="573.3" r="4.6" fill="#7F7F7F"/>
<circle cx="564.0" cy="590.2" r="4.6" fill="#7F7F7F"/>
<circle cx="579.5" cy="596.8" r="4.6" fill="#7F7F7F"/>
<circle cx="552.3" cy="606.6" r="4.6" fill="#7F7F7F"/>
<circle cx="542.0" cy="605.2" r="4.6" fill="#7F7F7F"/>
<circle cx="622.1" cy="658.3" r="4.6" fill="#7F7F7F"/>
<circle cx="659.6" cy="611.9" r="4.6" fill="#7F7F7F"/>
<circle cx="660.6" cy="619.9" r="4.6" fill="#00BA38"/>
<circle cx="571.5" cy="677.6" r="4.6" fill="#00BA38"/>
<circle cx="467.7" cy="603.9" r="4.6" fill="#B79F00"/>
<circle cx="470.5" cy="595.1" r="4.6" fill="#B79F00"/>
<circle cx="530.1" cy="584.3" r="4.6" fill="#B79F00"/>
<circle cx="475.6" cy="563.2" r="4.6" fill="#B79F00"/>
<circle cx="557.5" cy="590.7" r="4.6" fill="#B79F00"/>
<circle cx="504.6" cy="547.1" r="4.6" fill="#B79F00"/>
<circle cx="437.0" cy="615.5" r="4.6" fill="#B79F00"/>
<circle cx="469.4" cy="613.9" r="4.6" fill="#B79F00"/>
<circle cx="429.6" cy="607.6" r="4.6" fill="#B79F00"/>
<circle cx="484.9" cy="595.0" r="4.6" fill="#B79F00"/>
<circle cx="480.4" cy="594.0" r="4.6" fill="#B79F00"/>
<circle cx="485.7" cy="635.4" r="4.6" fill="#B79F00"/>
<circle cx="449.2" cy="587.7" r="4.6" fill="#B79F00"/>
<circle cx="507.1" cy="574.5" r="4.6" fill="#B79F00"/>
<circle cx="473.6" cy="574.6" r="4.6" fill="#B79F00"/>
<circle cx="564.5" cy="568.2" r="4.6" fill="#B79F00"/>
<circle cx="460.6" cy="559.6" r="4.6" fill="#B79F00"/>
<circle cx="458.8" cy="603.2" r="4.6" fill="#B79F00"/>
<circle cx="507.9" cy="594.3" r="4.6" fill="#B79F00"/>
<circle cx="534.5" cy="623.2" r="4.6" fill="#B79F00"/>
<circle cx="498.3" cy="563.7" r="4.6" fill="#B79F00"/>
<circle cx="509.3" cy="572.3" r="4.6" fill="#B79F00"/>
<circle cx="527.8" cy="626.8" r="4.6" fill="#B79F00"/>
<circle cx="542.3" cy="630.7" r="4.6" fill="#B79F00"/>
<circle cx="449.8" cy="582.3" r="4.6" fill="#B79F00"/>
<circle cx="467.4" cy="611.7" r="4.6" fill="#B79F00"/>
<circle cx="510.2" cy="551.4" r="4.6" fill="#B79F00"/>
<circle cx="525.8" cy="602.1" r="4.6" fill="#B79F00"/>
<circle cx="446.4" cy="606.1" r="4.6" fill="#B79F00"/>
<circle cx="556.4" cy="598.1" r="4.6" fill="#B79F00"/>
<circle cx="537.3" cy="607.0" r="4.6" fill="#B79F00"/>
<circle cx="446.6" cy="621.9" r="4.6" fill="#B79F00"/>
<circle cx="431.2" cy="614.3" r="4.6" fill="#B79F00"/>
<circle cx="543.8" cy="559.3" r="4.6" fill="#B79F00"/>
<circle cx="541.9" cy="582.5" r="4.6" fill="#B79F00"/>
<circle cx="479.3" cy="584.3" r="4.6" fill="#B79F00"/>
<circle cx="465.6" cy="637.4" r="4.6" fill="#B79F00"/>
<circle cx="517.5" cy="626.5" r="4.6" fill="#B79F00"/>
<circle cx="430.6" cy="602.3" r="4.6" fill="#B79F00"/>
<circle cx="436.8" cy="599.4" r="4.6" fill="#B79F00"/>
<circle cx="456.1" cy="614.1" r="4.6" fill="#B79F00"/>
<circle cx="542.8" cy="544.3" r="4.6" fill="#B79F00"/>
<circle cx="540.1" cy="619.8" r="4.6" fill="#B79F00"/>
<circle cx="488.0" cy="551.2" r="4.6" fill="#B79F00"/>
<circle cx="455.1" cy="561.6" r="4.6" fill="#B79F00"/>
<circle cx="556.5" cy="601.0" r="4.6" fill="#B79F00"/>
<circle cx="493.1" cy="575.2" r="4.6" fill="#B79F00"/>
<circle cx="536.9" cy="602.0" r="4.6" fill="#B79F00"/>
<circle cx="519.5" cy="637.9" r="4.6" fill="#B79F00"/>
<circle cx="525.4" cy="635.9" r="4.6" fill="#B79F00"/>
<circle cx="442.4" cy="606.2" r="4.6" fill="#B79F00"/>
<circle cx="515.9" cy="631.5" r="4.6" fill="#B79F00"/>
<circle cx="539.3" cy="599.0" r="4.6" fill="#B79F00"/>
<circle cx="524.2" cy="574.0" r="4.6" fill="#B79F00"/>
<circle cx="513.7" cy="611.7" r="4.6" fill="#B79F00"/>
<circle cx="479.7" cy="631.6" r="4.6" fill="#B79F00"/>
<circle cx="460.7" cy="599.3" r="4.6" fill="#B79F00"/>
<circle cx="479.5" cy="606.7" r="4.6" fill="#B79F00"/>
<circle cx="434.9" cy="593.5" r="4.6" fill="#B79F00"/>
<circle cx="438.8" cy="595.3" r="4.6" fill="#B79F00"/>
<circle cx="465.4" cy="615.0" r="4.6" fill="#B79F00"/>
<circle cx="544.5" cy="595.0" r="4.6" fill="#B79F00"/>
<circle cx="453.6" cy="619.7" r="4.6" fill="#B79F00"/>
<circle cx="462.8" cy="602.9" r="4.6" fill="#B79F00"/>
<circle cx="475.7" cy="617.8" r="4.6" fill="#B79F00"/>
<circle cx="492.7" cy="590.2" r="4.6" fill="#B79F00"/>
<circle cx="507.1" cy="541.0" r="4.6" fill="#B79F00"/>
<circle cx="525.1" cy="598.5" r="4.6" fill="#B79F00"/>
<circle cx="541.0" cy="610.8" r="4.6" fill="#B79F00"/>
<circle cx="498.1" cy="539.3" r="4.6" fill="#B79F00"/>
<circle cx="562.2" cy="584.1" r="4.6" fill="#B79F00"/>
<circle cx="503.6" cy="578.0" r="4.6" fill="#B79F00"/>
<circle cx="532.9" cy="591.0" r="4.6" fill="#B79F00"/>
<circle cx="546.3" cy="603.8" r="4.6" fill="#B79F00"/>
<circle cx="526.9" cy="618.2" r="4.6" fill="#B79F00"/>
<circle cx="529.6" cy="543.9" r="4.6" fill="#B79F00"/>
<circle cx="516.7" cy="539.2" r="4.6" fill="#B79F00"/>
<circle cx="461.2" cy="554.1" r="4.6" fill="#B79F00"/>
<circle cx="468.9" cy="630.4" r="4.6" fill="#B79F00"/>
<circle cx="475.1" cy="594.9" r="4.6" fill="#B79F00"/>
<circle cx="529.1" cy="575.4" r="4.6" fill="#B79F00"/>
<circle cx="540.1" cy="602.3" r="4.6" fill="#B79F00"/>
<circle cx="505.1" cy="614.7" r="4.6" fill="#B79F00"/>
<circle cx="526.3" cy="539.2" r="4.6" fill="#B79F00"/>
<circle cx="542.6" cy="591.8" r="4.6" fill="#B79F00"/>
<circle cx="467.5" cy="627.0" r="4.6" fill="#B79F00"/>
<circle cx="513.6" cy="619.0" r="4.6" fill="#B79F00"/>
<circle cx="515.6" cy="558.9" r="4.6" fill="#B79F00"/>
<circle cx="466.0" cy="619.3" r="4.6" fill="#B79F00"/>
<circle cx="447.4" cy="582.4" r="4.6" fill="#B79F00"/>
<circle cx="519.4" cy="567.1" r="4.6" fill="#B79F00"/>
<circle cx="545.5" cy="580.1" r="4.6" fill="#B79F00"/>
<circle cx="524.8" cy="558.9" r="4.6" fill="#B79F00"/>
<circle cx="500.8" cy="558.4" r="4.6" fill="#B79F00"/>
<circle cx="521.8" cy="634.4" r="4.6" fill="#B79F00"/>
<circle cx="489.1" cy="627.9" r="4.6" fill="#B79F00"/>
<circle cx="472.9" cy="630.0" r="4.6" fill="#B79F00"/>
<circle cx="510.0" cy="590.0" r="4.6" fill="#B79F00"/>
<circle cx="547.3" cy="622.1" r="4.6" fill="#B79F00"/>
<circle cx="514.0" cy="594.1" r="4.6" fill="#B79F00"/>
<circle cx="532.7" cy="567.9" r="4.6" fill="#B79F00"/>
<circle cx="517.4" cy="554.5" r="4.6" fill="#B79F00"/>
<circle cx="537.9" cy="574.1" r="4.6" fill="#B79F00"/>
<circle cx="486.2" cy="587.2" r="4.6" fill="#B79F00"/>
<circle cx="500.5" cy="582.4" r="4.6" fill="#B79F00"/>
<circle cx="486.8" cy="606.0" r="4.6" fill="#B79F00"/>
<circle cx="454.1" cy="610.2" r="4.6" fill="#B79F00"/>
<circle cx="509.0" cy="562.5" r="4.6" fill="#B79F00"/>
<circle cx="535.1" cy="547.5" r="4.6" fill="#B79F00"/>
<circle cx="558.4" cy="581.3" r="4.6" fill="#B79F00"/>
<circle cx="513.3" cy="540.0" r="4.6" fill="#B79F00"/>
<circle cx="562.2" cy="572.9" r="4.6" fill="#B79F00"/>
<circle cx="523.3" cy="548.4" r="4.6" fill="#B79F00"/>
<circle cx="469.3" cy="608.1" r="4.6" fill="#B79F00"/>
<circle cx="551.4" cy="598.1" r="4.6" fill="#B79F00"/>
<circle cx="554.6" cy="618.1" r="4.6" fill="#B79F00"/>
<circle cx="491.9" cy="543.7" r="4.6" fill="#B79F00"/>
<circle cx="531.5" cy="595.9" r="4.6" fill="#B79F00"/>
<circle cx="495.8" cy="574.4" r="4.6" fill="#B79F00"/>
<circle cx="459.6" cy="574.5" r="4.6" fill="#B79F00"/>
<circle cx="479.7" cy="564.3" r="4.6" fill="#B79F00"/>
<circle cx="537.1" cy="552.0" r="4.6" fill="#B79F00"/>
<circle cx="466.7" cy="586.7" r="4.6" fill="#B79F00"/>
<circle cx="507.3" cy="604.2" r="4.6" fill="#B79F00"/>
<circle cx="544.1" cy="627.8" r="4.6" fill="#B79F00"/>
<circle cx="479.7" cy="590.5" r="4.6" fill="#B79F00"/>
<circle cx="514.2" cy="622.4" r="4.6" fill="#B79F00"/>
<circle cx="536.6" cy="563.8" r="4.6" fill="#B79F00"/>
<circle cx="468.8" cy="552.4" r="4.6" fill="#B79F00"/>
<circle cx="472.9" cy="583.1" r="4.6" fill="#B79F00"/>
<circle cx="469.8" cy="583.7" r="4.6" fill="#B79F00"/>
<circle cx="454.6" cy="598.0" r="4.6" fill="#B79F00"/>
<circle cx="480.3" cy="586.8" r="4.6" fill="#B79F00"/>
<circle cx="450.9" cy="622.9" r="4.6" fill="#B79F00"/>
<circle cx="471.6" cy="587.6" r="4.6" fill="#B79F00"/>
<circle cx="457.5" cy="563.0" r="4.6" fill="#B79F00"/>
<circle cx="519.4" cy="622.4" r="4.6" fill="#B79F00"/>
<circle cx="548.1" cy="633.5" r="4.6" fill="#B79F00"/>
<circle cx="525.3" cy="623.0" r="4.6" fill="#B79F00"/>
<circle cx="444.2" cy="604.1" r="4.6" fill="#B79F00"/>
<circle cx="519.4" cy="615.6" r="4.6" fill="#B79F00"/>
<circle cx="552.5" cy="583.8" r="4.6" fill="#B79F00"/>
<circle cx="530.2" cy="616.0" r="4.6" fill="#B79F00"/>
<circle cx="495.9" cy="599.6" r="4.6" fill="#B79F00"/>
<circle cx="449.2" cy="594.2" r="4.6" fill="#B79F00"/>
<circle cx="501.7" cy="607.1" r="4.6" fill="#B79F00"/>
<circle cx="501.1" cy="544.2" r="4.6" fill="#B79F00"/>
<circle cx="544.3" cy="549.4" r="4.6" fill="#B79F00"/>
<circle cx="530.2" cy="586.6" r="4.6" fill="#B79F00"/>
<circle cx="455.7" cy="583.4" r="4.6" fill="#B79F00"/>
<circle cx="477.9" cy="543.8" r="4.6" fill="#B79F00"/>
<circle cx="479.9" cy="548.1" r="4.6" fill="#B79F00"/>
<circle cx="509.7" cy="614.4" r="4.6" fill="#B79F00"/>
<circle cx="478.8" cy="615.9" r="4.6" fill="#B79F00"/>
<circle cx="554.8" cy="611.3" r="4.6" fill="#B79F00"/>
<circle cx="472.9" cy="622.5" r="4.6" fill="#B79F00"/>
<circle cx="550.2" cy="563.1" r="4.6" fill="#B79F00"/>
<circle cx="481.7" cy="602.5" r="4.6" fill="#B79F00"/>
<circle cx="452.4" cy="634.1" r="4.6" fill="#B79F00"/>
<circle cx="482.9" cy="590.6" r="4.6" fill="#B79F00"/>
<circle cx="459.5" cy="567.0" r="4.6" fill="#B79F00"/>
<circle cx="445.7" cy="571.2" r="4.6" fill="#B79F00"/>
<circle cx="517.9" cy="635.3" r="4.6" fill="#B79F00"/>
<circle cx="475.7" cy="547.1" r="4.6" fill="#B79F00"/>
<circle cx="445.2" cy="575.4" r="4.6" fill="#B79F00"/>
<circle cx="512.3" cy="562.1" r="4.6" fill="#B79F00"/>
<circle cx="427.9" cy="600.7" r="4.6" fill="#B79F00"/>
<circle cx="463.4" cy="578.7" r="4.6" fill="#B79F00"/>
<circle cx="498.3" cy="603.4" r="4.6" fill="#B79F00"/>
<circle cx="505.3" cy="582.2" r="4.6" fill="#B79F00"/>
<circle cx="476.9" cy="555.7" r="4.6" fill="#B79F00"/>
<circle cx="542.5" cy="574.9" r="4.6" fill="#B79F00"/>
<circle cx="445.2" cy="591.8" r="4.6" fill="#B79F00"/>
<circle cx="437.0" cy="606.1" r="4.6" fill="#B79F00"/>
<circle cx="489.5" cy="570.2" r="4.6" fill="#B79F00"/>
<circle cx="532.0" cy="570.3" r="4.6" fill="#B79F00"/>
<circle cx="521.4" cy="540.2" r="4.6" fill="#B79F00"/>
<circle cx="500.5" cy="575.7" r="4.6" fill="#B79F00"/>
<circle cx="471.3" cy="618.2" r="4.6" fill="#B79F00"/>
<circle cx="463.0" cy="588.2" r="4.6" fill="#B79F00"/>
<circle cx="520.7" cy="598.2" r="4.6" fill="#B79F00"/>
<circle cx="507.2" cy="559.7" r="4.6" fill="#B79F00"/>
<circle cx="537.7" cy="591.8" r="4.6" fill="#B79F00"/>
<circle cx="456.6" cy="595.8" r="4.6" fill="#B79F00"/>
<circle cx="490.4" cy="596.1" r="4.6" fill="#B79F00"/>
<circle cx="496.1" cy="591.0" r="4.6" fill="#B79F00"/>
<circle cx="500.2" cy="618.0" r="4.6" fill="#B79F00"/>
<circle cx="498.1" cy="570.1" r="4.6" fill="#B79F00"/>
<circle cx="537.1" cy="539.9" r="4.6" fill="#B79F00"/>
<circle cx="557.1" cy="615.7" r="4.6" fill="#B79F00"/>
<circle cx="478.3" cy="567.3" r="4.6" fill="#B79F00"/>
<circle cx="500.3" cy="567.3" r="4.6" fill="#B79F00"/>
<circle cx="488.1" cy="544.1" r="4.6" fill="#B79F00"/>
<circle cx="485.7" cy="603.4" r="4.6" fill="#B79F00"/>
<circle cx="492.7" cy="551.6" r="4.6" fill="#B79F00"/>
<circle cx="463.5" cy="598.0" r="4.6" fill="#B79F00"/>
<circle cx="549.1" cy="619.4" r="4.6" fill="#B79F00"/>
<circle cx="473.6" cy="607.4" r="4.6" fill="#B79F00"/>
<circle cx="462.8" cy="572.3" r="4.6" fill="#B79F00"/>
<circle cx="483.4" cy="615.6" r="4.6" fill="#B79F00"/>
<circle cx="468.5" cy="591.8" r="4.6" fill="#B79F00"/>
<circle cx="479.8" cy="570.4" r="4.6" fill="#B79F00"/>
<circle cx="491.2" cy="558.4" r="4.6" fill="#B79F00"/>
<circle cx="490.3" cy="546.4" r="4.6" fill="#B79F00"/>
<circle cx="483.9" cy="607.1" r="4.6" fill="#B79F00"/>
<circle cx="465.3" cy="592.1" r="4.6" fill="#B79F00"/>
<circle cx="525.6" cy="543.3" r="4.6" fill="#B79F00"/>
<circle cx="536.8" cy="618.4" r="4.6" fill="#B79F00"/>
<circle cx="462.2" cy="595.1" r="4.6" fill="#B79F00"/>
<circle cx="527.1" cy="547.0" r="4.6" fill="#B79F00"/>
<circle cx="489.0" cy="634.2" r="4.6" fill="#B79F00"/>
<circle cx="543.2" cy="622.8" r="4.6" fill="#B79F00"/>
<circle cx="528.7" cy="623.0" r="4.6" fill="#B79F00"/>
<circle cx="488.1" cy="584.2" r="4.6" fill="#B79F00"/>
<circle cx="518.4" cy="610.0" r="4.6" fill="#B79F00"/>
<circle cx="491.9" cy="622.3" r="4.6" fill="#B79F00"/>
<circle cx="455.2" cy="574.5" r="4.6" fill="#B79F00"/>
<circle cx="554.7" cy="564.4" r="4.6" fill="#B79F00"/>
<circle cx="481.8" cy="540.1" r="4.6" fill="#B79F00"/>
<circle cx="534.3" cy="599.2" r="4.6" fill="#B79F00"/>
<circle cx="516.1" cy="592.3" r="4.6" fill="#B79F00"/>
<circle cx="479.4" cy="559.2" r="4.6" fill="#B79F00"/>
<circle cx="534.3" cy="542.6" r="4.6" fill="#B79F00"/>
<circle cx="539.9" cy="634.0" r="4.6" fill="#B79F00"/>
<circle cx="467.5" cy="578.2" r="4.6" fill="#B79F00"/>
<circle cx="532.8" cy="606.3" r="4.6" fill="#B79F00"/>
<circle cx="494.7" cy="546.9" r="4.6" fill="#B79F00"/>
<circle cx="523.4" cy="550.7" r="4.6" fill="#B79F00"/>
<circle cx="458.8" cy="637.3" r="4.6" fill="#B79F00"/>
<circle cx="517.8" cy="547.5" r="4.6" fill="#B79F00"/>
<circle cx="543.2" cy="607.9" r="4.6" fill="#B79F00"/>
<circle cx="470.4" cy="547.1" r="4.6" fill="#B79F00"/>
<circle cx="474.6" cy="550.7" r="4.6" fill="#B79F00"/>
<circle cx="548.1" cy="558.3" r="4.6" fill="#B79F00"/>
<circle cx="494.5" cy="564.3" r="4.6" fill="#B79F00"/>
<circle cx="536.7" cy="635.9" r="4.6" fill="#B79F00"/>
<circle cx="506.2" cy="550.9" r="4.6" fill="#B79F00"/>
<circle cx="531.9" cy="602.9" r="4.6" fill="#B79F00"/>
<circle cx="535.4" cy="611.9" r="4.6" fill="#B79F00"/>
<circle cx="448.1" cy="610.7" r="4.6" fill="#B79F00"/>
<circle cx="510.1" cy="607.0" r="4.6" fill="#B79F00"/>
<circle cx="531.3" cy="636.3" r="4.6" fill="#B79F00"/>
<circle cx="535.1" cy="594.8" r="4.6" fill="#B79F00"/>
<circle cx="449.6" cy="571.6" r="4.6" fill="#B79F00"/>
<circle cx="504.6" cy="603.3" r="4.6" fill="#B79F00"/>
<circle cx="520.1" cy="590.3" r="4.6" fill="#B79F00"/>
<circle cx="553.4" cy="586.6" r="4.6" fill="#B79F00"/>
<circle cx="519.3" cy="558.9" r="4.6" fill="#B79F00"/>
<circle cx="450.9" cy="576.1" r="4.6" fill="#B79F00"/>
<circle cx="467.8" cy="554.3" r="4.6" fill="#B79F00"/>
<circle cx="555.4" cy="571.1" r="4.6" fill="#B79F00"/>
<circle cx="513.6" cy="627.5" r="4.6" fill="#B79F00"/>
<circle cx="433.5" cy="608.2" r="4.6" fill="#B79F00"/>
<circle cx="479.7" cy="576.0" r="4.6" fill="#B79F00"/>
<circle cx="557.5" cy="624.2" r="4.6" fill="#B79F00"/>
<circle cx="532.5" cy="611.9" r="4.6" fill="#B79F00"/>
<circle cx="467.6" cy="571.7" r="4.6" fill="#B79F00"/>
<circle cx="546.9" cy="600.2" r="4.6" fill="#B79F00"/>
<circle cx="546.7" cy="591.2" r="4.6" fill="#B79F00"/>
<circle cx="479.7" cy="555.8" r="4.6" fill="#B79F00"/>
<circle cx="549.7" cy="587.1" r="4.6" fill="#B79F00"/>
<circle cx="472.2" cy="579.6" r="4.6" fill="#B79F00"/>
<circle cx="554.0" cy="594.3" r="4.6" fill="#B79F00"/>
<circle cx="527.4" cy="586.8" r="4.6" fill="#B79F00"/>
<circle cx="443.5" cy="578.2" r="4.6" fill="#B79F00"/>
<circle cx="467.3" cy="595.8" r="4.6" fill="#B79F00"/>
<circle cx="464.9" cy="574.9" r="4.6" fill="#B79F00"/>
<circle cx="504.3" cy="554.4" r="4.6" fill="#B79F00"/>
<circle cx="509.2" cy="547.7" r="4.6" fill="#B79F00"/>
<circle cx="471.0" cy="572.0" r="4.6" fill="#B79F00"/>
<circle cx="442.0" cy="590.0" r="4.6" fill="#B79F00"/>
<circle cx="475.9" cy="570.3" r="4.6" fill="#B79F00"/>
<circle cx="559.3" cy="599.1" r="4.6" fill="#B79F00"/>
<circle cx="502.8" cy="587.1" r="4.6" fill="#B79F00"/>
<circle cx="553.5" cy="602.9" r="4.6" fill="#B79F00"/>
<circle cx="558.8" cy="571.1" r="4.6" fill="#B79F00"/>
<circle cx="490.5" cy="563.7" r="4.6" fill="#B79F00"/>
<circle cx="494.0" cy="587.6" r="4.6" fill="#B79F00"/>
<circle cx="479.0" cy="637.3" r="4.6" fill="#B79F00"/>
<circle cx="468.3" cy="558.4" r="4.6" fill="#B79F00"/>
<circle cx="513.3" cy="570.6" r="4.6" fill="#B79F00"/>
<circle cx="511.5" cy="631.8" r="4.6" fill="#B79F00"/>
<circle cx="482.7" cy="584.0" r="4.6" fill="#B79F00"/>
<circle cx="488.4" cy="638.7" r="4.6" fill="#B79F00"/>
<circle cx="497.3" cy="622.9" r="4.6" fill="#B79F00"/>
<circle cx="494.3" cy="595.2" r="4.6" fill="#B79F00"/>
<circle cx="448.2" cy="618.4" r="4.6" fill="#B79F00"/>
<circle cx="441.1" cy="598.5" r="4.6" fill="#B79F00"/>
<circle cx="517.4" cy="570.9" r="4.6" fill="#B79F00"/>
<circle cx="503.5" cy="627.9" r="4.6" fill="#B79F00"/>
<circle cx="468.7" cy="622.5" r="4.6" fill="#B79F00"/>
<circle cx="483.0" cy="544.1" r="4.6" fill="#B79F00"/>
<circle cx="555.7" cy="582.9" r="4.6" fill="#B79F00"/>
<circle cx="441.2" cy="583.4" r="4.6" fill="#B79F00"/>
<circle cx="509.6" cy="626.1" r="4.6" fill="#B79F00"/>
<circle cx="532.4" cy="546.1" r="4.6" fill="#B79F00"/>
<circle cx="489.3" cy="579.2" r="4.6" fill="#B79F00"/>
<circle cx="512.7" cy="588.2" r="4.6" fill="#B79F00"/>
<circle cx="514.6" cy="640.1" r="4.6" fill="#B79F00"/>
<circle cx="463.2" cy="618.7" r="4.6" fill="#B79F00"/>
<circle cx="484.8" cy="571.6" r="4.6" fill="#B79F00"/>
<circle cx="529.0" cy="552.3" r="4.6" fill="#B79F00"/>
<circle cx="505.6" cy="607.7" r="4.6" fill="#B79F00"/>
<circle cx="498.2" cy="586.6" r="4.6" fill="#B79F00"/>
<circle cx="552.0" cy="623.9" r="4.6" fill="#B79F00"/>
<circle cx="483.6" cy="599.4" r="4.6" fill="#B79F00"/>
<circle cx="447.6" cy="627.3" r="4.6" fill="#B79F00"/>
<circle cx="512.7" cy="546.5" r="4.6" fill="#B79F00"/>
<circle cx="544.6" cy="640.1" r="4.6" fill="#B79F00"/>
<circle cx="506.0" cy="599.5" r="4.6" fill="#B79F00"/>
<circle cx="512.5" cy="635.1" r="4.6" fill="#B79F00"/>
<circle cx="500.3" cy="579.3" r="4.6" fill="#B79F00"/>
<circle cx="517.0" cy="562.2" r="4.6" fill="#B79F00"/>
<circle cx="461.6" cy="626.6" r="4.6" fill="#B79F00"/>
<circle cx="553.2" cy="591.6" r="4.6" fill="#B79F00"/>
<circle cx="540.6" cy="595.3" r="4.6" fill="#B79F00"/>
<circle cx="441.5" cy="623.2" r="4.6" fill="#B79F00"/>
<circle cx="528.8" cy="558.4" r="4.6" fill="#B79F00"/>
<circle cx="492.6" cy="635.4" r="4.6" fill="#B79F00"/>
<circle cx="534.2" cy="614.4" r="4.6" fill="#B79F00"/>
<circle cx="534.0" cy="584.3" r="4.6" fill="#B79F00"/>
<circle cx="547.2" cy="583.1" r="4.6" fill="#B79F00"/>
<circle cx="507.9" cy="556.3" r="4.6" fill="#B79F00"/>
<circle cx="534.6" cy="551.4" r="4.6" fill="#B79F00"/>
<circle cx="481.7" cy="611.5" r="4.6" fill="#B79F00"/>
<circle cx="485.0" cy="627.3" r="4.6" fill="#B79F00"/>
<circle cx="439.7" cy="611.0" r="4.6" fill="#B79F00"/>
<circle cx="521.4" cy="626.8" r="4.6" fill="#B79F00"/>
<circle cx="456.7" cy="626.9" r="4.6" fill="#B79F00"/>
<circle cx="453.8" cy="571.4" r="4.6" fill="#B79F00"/>
<circle cx="497.7" cy="583.1" r="4.6" fill="#B79F00"/>
<circle cx="529.6" cy="537.1" r="4.6" fill="#B79F00"/>
<circle cx="447.6" cy="578.8" r="4.6" fill="#B79F00"/>
<circle cx="532.9" cy="574.9" r="4.6" fill="#B79F00"/>
<circle cx="548.7" cy="594.1" r="4.6" fill="#B79F00"/>
<circle cx="480.0" cy="626.9" r="4.6" fill="#B79F00"/>
<circle cx="559.7" cy="566.6" r="4.6" fill="#B79F00"/>
<circle cx="557.5" cy="576.6" r="4.6" fill="#B79F00"/>
<circle cx="515.3" cy="543.4" r="4.6" fill="#B79F00"/>
<circle cx="515.2" cy="551.0" r="4.6" fill="#B79F00"/>
<circle cx="527.0" cy="572.0" r="4.6" fill="#B79F00"/>
<circle cx="479.5" cy="622.5" r="4.6" fill="#B79F00"/>
<circle cx="550.8" cy="603.1" r="4.6" fill="#B79F00"/>
<circle cx="509.9" cy="583.5" r="4.6" fill="#B79F00"/>
<circle cx="453.2" cy="603.2" r="4.6" fill="#B79F00"/>
<circle cx="447.8" cy="602.5" r="4.6" fill="#B79F00"/>
<circle cx="484.3" cy="550.8" r="4.6" fill="#B79F00"/>
<circle cx="482.1" cy="622.6" r="4.6" fill="#B79F00"/>
<circle cx="483.9" cy="575.5" r="4.6" fill="#B79F00"/>
<circle cx="433.3" cy="599.4" r="4.6" fill="#B79F00"/>
<circle cx="476.9" cy="587.3" r="4.6" fill="#B79F00"/>
<circle cx="488.0" cy="598.4" r="4.6" fill="#B79F00"/>
<circle cx="524.2" cy="631.2" r="4.6" fill="#B79F00"/>
<circle cx="443.4" cy="595.2" r="4.6" fill="#B79F00"/>
<circle cx="474.6" cy="615.7" r="4.6" fill="#B79F00"/>
<circle cx="465.4" cy="546.2" r="4.6" fill="#B79F00"/>
<circle cx="477.3" cy="580.1" r="4.6" fill="#B79F00"/>
<circle cx="474.1" cy="558.6" r="4.6" fill="#B79F00"/>
<circle cx="471.5" cy="637.3" r="4.6" fill="#B79F00"/>
<circle cx="460.2" cy="608.2" r="4.6" fill="#B79F00"/>
<circle cx="434.4" cy="611.3" r="4.6" fill="#B79F00"/>
<circle cx="437.8" cy="582.2" r="4.6" fill="#B79F00"/>
<circle cx="514.4" cy="583.8" r="4.6" fill="#B79F00"/>
<circle cx="473.1" cy="567.3" r="4.6" fill="#B79F00"/>
<circle cx="538.1" cy="614.9" r="4.6" fill="#B79F00"/>
<circle cx="464.9" cy="583.5" r="4.6" fill="#B79F00"/>
<circle cx="444.9" cy="612.1" r="4.6" fill="#B79F00"/>
<circle cx="550.2" cy="626.4" r="4.6" fill="#B79F00"/>
<circle cx="520.9" cy="631.1" r="4.6" fill="#B79F00"/>
<circle cx="518.3" cy="618.9" r="4.6" fill="#B79F00"/>
<circle cx="445.2" cy="631.7" r="4.6" fill="#B79F00"/>
<circle cx="500.5" cy="623.9" r="4.6" fill="#B79F00"/>
<circle cx="455.3" cy="566.2" r="4.6" fill="#B79F00"/>
<circle cx="487.6" cy="590.6" r="4.6" fill="#B79F00"/>
<circle cx="523.2" cy="619.3" r="4.6" fill="#B79F00"/>
<circle cx="495.4" cy="618.6" r="4.6" fill="#B79F00"/>
<circle cx="447.2" cy="599.0" r="4.6" fill="#B79F00"/>
<circle cx="464.5" cy="606.4" r="4.6" fill="#B79F00"/>
<circle cx="497.5" cy="544.1" r="4.6" fill="#B79F00"/>
<circle cx="491.7" cy="583.7" r="4.6" fill="#B79F00"/>
<circle cx="542.7" cy="613.9" r="4.6" fill="#B79F00"/>
<circle cx="468.2" cy="568.4" r="4.6" fill="#B79F00"/>
<circle cx="482.1" cy="566.8" r="4.6" fill="#B79F00"/>
<circle cx="513.7" cy="536.8" r="4.6" fill="#B79F00"/>
<circle cx="438.2" cy="590.7" r="4.6" fill="#B79F00"/>
<circle cx="436.3" cy="618.5" r="4.6" fill="#B79F00"/>
<circle cx="515.9" cy="607.3" r="4.6" fill="#B79F00"/>
<circle cx="487.5" cy="574.4" r="4.6" fill="#B79F00"/>
<circle cx="455.4" cy="606.5" r="4.6" fill="#B79F00"/>
<circle cx="523.0" cy="586.0" r="4.6" fill="#B79F00"/>
<circle cx="531.2" cy="618.9" r="4.6" fill="#B79F00"/>
<circle cx="474.3" cy="540.5" r="4.6" fill="#B79F00"/>
<circle cx="501.5" cy="537.7" r="4.6" fill="#B79F00"/>
<circle cx="469.9" cy="574.6" r="4.6" fill="#B79F00"/>
<circle cx="481.3" cy="580.0" r="4.6" fill="#B79F00"/>
<circle cx="528.6" cy="597.9" r="4.6" fill="#B79F00"/>
<circle cx="495.6" cy="578.6" r="4.6" fill="#B79F00"/>
<circle cx="491.2" cy="616.0" r="4.6" fill="#B79F00"/>
<circle cx="504.9" cy="630.5" r="4.6" fill="#B79F00"/>
<circle cx="515.8" cy="568.2" r="4.6" fill="#B79F00"/>
<circle cx="493.3" cy="567.5" r="4.6" fill="#B79F00"/>
<circle cx="490.5" cy="554.2" r="4.6" fill="#B79F00"/>
<circle cx="459.8" cy="592.3" r="4.6" fill="#B79F00"/>
<circle cx="511.8" cy="544.4" r="4.6" fill="#B79F00"/>
<circle cx="490.4" cy="610.7" r="4.6" fill="#B79F00"/>
<circle cx="545.6" cy="564.3" r="4.6" fill="#B79F00"/>
<circle cx="527.3" cy="579.3" r="4.6" fill="#B79F00"/>
<circle cx="441.5" cy="575.7" r="4.6" fill="#B79F00"/>
<circle cx="552.6" cy="615.9" r="4.6" fill="#B79F00"/>
<circle cx="440.7" cy="614.5" r="4.6" fill="#B79F00"/>
<circle cx="463.7" cy="623.4" r="4.6" fill="#B79F00"/>
<circle cx="507.0" cy="543.8" r="4.6" fill="#B79F00"/>
<circle cx="557.5" cy="612.0" r="4.6" fill="#B79F00"/>
<circle cx="534.5" cy="559.6" r="4.6" fill="#B79F00"/>
<circle cx="547.4" cy="615.7" r="4.6" fill="#B79F00"/>
<circle cx="516.6" cy="586.8" r="4.6" fill="#B79F00"/>
<circle cx="502.0" cy="631.0" r="4.6" fill="#B79F00"/>
<circle cx="488.4" cy="538.7" r="4.6" fill="#B79F00"/>
<circle cx="505.7" cy="623.5" r="4.6" fill="#B79F00"/>
<circle cx="525.2" cy="583.7" r="4.6" fill="#B79F00"/>
<circle cx="500.5" cy="590.9" r="4.6" fill="#B79F00"/>
<circle cx="451.9" cy="598.3" r="4.6" fill="#B79F00"/>
<circle cx="450.9" cy="567.2" r="4.6" fill="#B79F00"/>
<circle cx="531.3" cy="562.7" r="4.6" fill="#B79F00"/>
<circle cx="482.7" cy="560.0" r="4.6" fill="#B79F00"/>
<circle cx="485.2" cy="611.9" r="4.6" fill="#B79F00"/>
<circle cx="495.2" cy="571.4" r="4.6" fill="#B79F00"/>
<circle cx="525.9" cy="555.0" r="4.6" fill="#B79F00"/>
<circle cx="504.5" cy="610.2" r="4.6" fill="#B79F00"/>
<circle cx="503.3" cy="563.7" r="4.6" fill="#B79F00"/>
<circle cx="507.3" cy="619.3" r="4.6" fill="#B79F00"/>
<circle cx="530.4" cy="554.2" r="4.6" fill="#B79F00"/>
<circle cx="519.1" cy="544.2" r="4.6" fill="#B79F00"/>
<circle cx="460.0" cy="614.9" r="4.6" fill="#B79F00"/>
<circle cx="488.4" cy="630.4" r="4.6" fill="#B79F00"/>
<circle cx="486.8" cy="567.3" r="4.6" fill="#B79F00"/>
<circle cx="496.8" cy="535.4" r="4.6" fill="#B79F00"/>
<circle cx="459.0" cy="630.1" r="4.6" fill="#B79F00"/>
<circle cx="521.8" cy="570.1" r="4.6" fill="#B79F00"/>
<circle cx="471.0" cy="556.1" r="4.6" fill="#B79F00"/>
<circle cx="511.5" cy="558.4" r="4.6" fill="#B79F00"/>
<circle cx="453.4" cy="579.8" r="4.6" fill="#B79F00"/>
<circle cx="528.2" cy="566.8" r="4.6" fill="#B79F00"/>
<circle cx="522.5" cy="554.2" r="4.6" fill="#B79F00"/>
<circle cx="520.5" cy="583.9" r="4.6" fill="#B79F00"/>
<circle cx="452.7" cy="586.2" r="4.6" fill="#B79F00"/>
<circle cx="530.2" cy="590.0" r="4.6" fill="#B79F00"/>
<circle cx="497.8" cy="633.5" r="4.6" fill="#B79F00"/>
<circle cx="452.1" cy="631.7" r="4.6" fill="#B79F00"/>
<circle cx="555.0" cy="578.5" r="4.6" fill="#B79F00"/>
<circle cx="463.7" cy="559.7" r="4.6" fill="#B79F00"/>
<circle cx="439.9" cy="603.0" r="4.6" fill="#B79F00"/>
<circle cx="514.1" cy="614.9" r="4.6" fill="#B79F00"/>
<circle cx="512.2" cy="555.6" r="4.6" fill="#B79F00"/>
<circle cx="539.8" cy="562.6" r="4.6" fill="#B79F00"/>
<circle cx="485.1" cy="564.3" r="4.6" fill="#B79F00"/>
<circle cx="498.0" cy="559.7" r="4.6" fill="#B79F00"/>
<circle cx="473.7" cy="592.3" r="4.6" fill="#B79F00"/>
<circle cx="477.9" cy="550.5" r="4.6" fill="#B79F00"/>
<circle cx="520.5" cy="551.5" r="4.6" fill="#B79F00"/>
<circle cx="557.3" cy="606.9" r="4.6" fill="#B79F00"/>
<circle cx="457.8" cy="586.8" r="4.6" fill="#B79F00"/>
<circle cx="521.2" cy="536.1" r="4.6" fill="#B79F00"/>
<circle cx="497.8" cy="566.6" r="4.6" fill="#B79F00"/>
<circle cx="453.2" cy="595.6" r="4.6" fill="#B79F00"/>
<circle cx="464.0" cy="632.1" r="4.6" fill="#B79F00"/>
<circle cx="551.8" cy="628.8" r="4.6" fill="#B79F00"/>
<circle cx="510.4" cy="567.5" r="4.6" fill="#B79F00"/>
<circle cx="507.1" cy="592.1" r="4.6" fill="#B79F00"/>
<circle cx="510.6" cy="623.9" r="4.6" fill="#B79F00"/>
<circle cx="542.1" cy="598.4" r="4.6" fill="#B79F00"/>
<circle cx="503.0" cy="617.8" r="4.6" fill="#B79F00"/>
<circle cx="500.3" cy="628.1" r="4.6" fill="#B79F00"/>
<circle cx="488.9" cy="587.0" r="4.6" fill="#B79F00"/>
<circle cx="445.1" cy="586.1" r="4.6" fill="#B79F00"/>
<circle cx="485.1" cy="546.2" r="4.6" fill="#B79F00"/>
<circle cx="499.6" cy="556.4" r="4.6" fill="#B79F00"/>
<circle cx="452.1" cy="607.2" r="4.6" fill="#B79F00"/>
<circle cx="457.7" cy="572.0" r="4.6" fill="#B79F00"/>
<circle cx="544.2" cy="619.1" r="4.6" fill="#B79F00"/>
<circle cx="457.6" cy="610.9" r="4.6" fill="#B79F00"/>
<circle cx="478.7" cy="598.2" r="4.6" fill="#B79F00"/>
<circle cx="509.6" cy="587.3" r="4.6" fill="#B79F00"/>
<circle cx="433.9" cy="603.1" r="4.6" fill="#B79F00"/>
<circle cx="544.5" cy="588.3" r="4.6" fill="#B79F00"/>
<circle cx="508.1" cy="578.4" r="4.6" fill="#B79F00"/>
<circle cx="508.4" cy="609.9" r="4.6" fill="#B79F00"/>
<circle cx="447.1" cy="614.2" r="4.6" fill="#B79F00"/>
<circle cx="551.9" cy="567.4" r="4.6" fill="#B79F00"/>
<circle cx="553.7" cy="558.8" r="4.6" fill="#B79F00"/>
<circle cx="463.5" cy="610.2" r="4.6" fill="#B79F00"/>
<circle cx="493.5" cy="540.4" r="4.6" fill="#B79F00"/>
<circle cx="454.8" cy="630.9" r="4.6" fill="#B79F00"/>
<circle cx="540.9" cy="546.5" r="4.6" fill="#B79F00"/>
<circle cx="452.7" cy="627.4" r="4.6" fill="#B79F00"/>
<circle cx="531.9" cy="578.9" r="4.6" fill="#B79F00"/>
<circle cx="486.0" cy="579.5" r="4.6" fill="#B79F00"/>
<circle cx="480.0" cy="618.9" r="4.6" fill="#B79F00"/>
<circle cx="507.1" cy="637.3" r="4.6" fill="#B79F00"/>
<circle cx="477.3" cy="610.6" r="4.6" fill="#B79F00"/>
<circle cx="443.9" cy="618.3" r="4.6" fill="#B79F00"/>
<circle cx="563.1" cy="617.6" r="4.6" fill="#B79F00"/>
<circle cx="488.5" cy="615.3" r="4.6" fill="#B79F00"/>
<circle cx="469.6" cy="543.8" r="4.6" fill="#B79F00"/>
<circle cx="484.1" cy="631.8" r="4.6" fill="#B79F00"/>
<circle cx="504.8" cy="644.3" r="4.6" fill="#B79F00"/>
<circle cx="506.2" cy="648.0" r="4.6" fill="#B79F00"/>
<circle cx="520.2" cy="652.7" r="4.6" fill="#B79F00"/>
<circle cx="528.2" cy="656.5" r="4.6" fill="#B79F00"/>
<circle cx="532.4" cy="650.4" r="4.6" fill="#B79F00"/>
<circle cx="524.9" cy="648.5" r="4.6" fill="#B79F00"/>
<circle cx="529.6" cy="643.3" r="4.6" fill="#B79F00"/>
<circle cx="525.4" cy="635.8" r="4.6" fill="#B79F00"/>
<circle cx="536.7" cy="635.8" r="4.6" fill="#B79F00"/>
<circle cx="430.2" cy="639.1" r="4.6" fill="#B79F00"/>
<circle cx="570.8" cy="637.0" r="4.6" fill="#B79F00"/>
<circle cx="553.3" cy="648.0" r="4.6" fill="#B79F00"/>
<circle cx="571.5" cy="632.6" r="4.6" fill="#B79F00"/>
<circle cx="548.1" cy="660.7" r="4.6" fill="#B79F00"/>
<circle cx="580.5" cy="672.3" r="4.6" fill="#B79F00"/>
<circle cx="575.9" cy="670.8" r="4.6" fill="#B79F00"/>
<circle cx="556.7" cy="626.8" r="4.6" fill="#B79F00"/>
<circle cx="568.0" cy="640.8" r="4.6" fill="#B79F00"/>
<circle cx="598.7" cy="646.2" r="4.6" fill="#B79F00"/>
<circle cx="586.5" cy="654.9" r="4.6" fill="#B79F00"/>
<circle cx="583.2" cy="666.5" r="4.6" fill="#B79F00"/>
<circle cx="582.8" cy="677.6" r="4.6" fill="#B79F00"/>
<circle cx="570.7" cy="651.8" r="4.6" fill="#B79F00"/>
<circle cx="586.5" cy="669.1" r="4.6" fill="#B79F00"/>
<circle cx="590.2" cy="656.9" r="4.6" fill="#B79F00"/>
<circle cx="594.9" cy="628.3" r="4.6" fill="#B79F00"/>
<circle cx="559.4" cy="654.9" r="4.6" fill="#B79F00"/>
<circle cx="559.5" cy="657.1" r="4.6" fill="#B79F00"/>
<circle cx="591.3" cy="639.8" r="4.6" fill="#B79F00"/>
<circle cx="564.8" cy="651.2" r="4.6" fill="#B79F00"/>
<circle cx="550.9" cy="637.2" r="4.6" fill="#B79F00"/>
<circle cx="576.7" cy="648.8" r="4.6" fill="#B79F00"/>
<circle cx="553.7" cy="659.0" r="4.6" fill="#B79F00"/>
<circle cx="551.8" cy="628.8" r="4.6" fill="#B79F00"/>
<circle cx="572.8" cy="663.5" r="4.6" fill="#B79F00"/>
<circle cx="556.4" cy="652.5" r="4.6" fill="#B79F00"/>
<circle cx="569.2" cy="644.6" r="4.6" fill="#B79F00"/>
<circle cx="585.1" cy="664.6" r="4.6" fill="#B79F00"/>
<circle cx="545.2" cy="640.1" r="4.6" fill="#B79F00"/>
<circle cx="566.4" cy="644.5" r="4.6" fill="#B79F00"/>
<circle cx="557.4" cy="611.9" r="4.6" fill="#B79F00"/>
<circle cx="565.9" cy="670.2" r="4.6" fill="#B79F00"/>
<circle cx="558.2" cy="631.0" r="4.6" fill="#B79F00"/>
<circle cx="571.5" cy="671.0" r="4.6" fill="#B79F00"/>
<circle cx="559.9" cy="651.9" r="4.6" fill="#B79F00"/>
<circle cx="562.1" cy="628.8" r="4.6" fill="#B79F00"/>
<circle cx="575.5" cy="636.6" r="4.6" fill="#B79F00"/>
<circle cx="552.8" cy="619.4" r="4.6" fill="#B79F00"/>
<circle cx="543.4" cy="646.6" r="4.6" fill="#B79F00"/>
<circle cx="586.0" cy="629.8" r="4.6" fill="#B79F00"/>
<circle cx="542.4" cy="653.2" r="4.6" fill="#B79F00"/>
<circle cx="573.2" cy="639.8" r="4.6" fill="#B79F00"/>
<circle cx="597.8" cy="636.3" r="4.6" fill="#B79F00"/>
<circle cx="557.4" cy="624.1" r="4.6" fill="#B79F00"/>
<circle cx="588.5" cy="652.2" r="4.6" fill="#B79F00"/>
<circle cx="574.6" cy="666.9" r="4.6" fill="#B79F00"/>
<circle cx="575.2" cy="673.8" r="4.6" fill="#B79F00"/>
<circle cx="575.9" cy="664.8" r="4.6" fill="#B79F00"/>
<circle cx="548.2" cy="643.6" r="4.6" fill="#B79F00"/>
<circle cx="547.6" cy="651.9" r="4.6" fill="#B79F00"/>
<circle cx="551.4" cy="644.9" r="4.6" fill="#B79F00"/>
<circle cx="591.9" cy="635.3" r="4.6" fill="#B79F00"/>
<circle cx="594.6" cy="640.5" r="4.6" fill="#B79F00"/>
<circle cx="581.5" cy="647.9" r="4.6" fill="#B79F00"/>
<circle cx="563.1" cy="617.6" r="4.6" fill="#B79F00"/>
<circle cx="558.0" cy="647.6" r="4.6" fill="#B79F00"/>
<circle cx="562.3" cy="648.8" r="4.6" fill="#B79F00"/>
<circle cx="567.4" cy="647.7" r="4.6" fill="#B79F00"/>
<circle cx="580.7" cy="656.3" r="4.6" fill="#B79F00"/>
<circle cx="564.0" cy="633.0" r="4.6" fill="#B79F00"/>
<circle cx="575.8" cy="644.2" r="4.6" fill="#B79F00"/>
<circle cx="565.0" cy="635.2" r="4.6" fill="#B79F00"/>
<circle cx="551.2" cy="651.8" r="4.6" fill="#B79F00"/>
<circle cx="560.7" cy="670.1" r="4.6" fill="#B79F00"/>
<circle cx="580.2" cy="651.6" r="4.6" fill="#B79F00"/>
<circle cx="572.5" cy="648.8" r="4.6" fill="#B79F00"/>
<circle cx="584.1" cy="651.8" r="4.6" fill="#B79F00"/>
<circle cx="576.7" cy="632.1" r="4.6" fill="#B79F00"/>
<circle cx="565.9" cy="661.6" r="4.6" fill="#B79F00"/>
<circle cx="580.0" cy="636.4" r="4.6" fill="#B79F00"/>
<circle cx="578.9" cy="666.6" r="4.6" fill="#B79F00"/>
<circle cx="574.8" cy="652.4" r="4.6" fill="#B79F00"/>
<circle cx="587.1" cy="640.5" r="4.6" fill="#B79F00"/>
<circle cx="548.7" cy="647.3" r="4.6" fill="#B79F00"/>
<circle cx="564.9" cy="656.0" r="4.6" fill="#B79F00"/>
<circle cx="550.4" cy="655.2" r="4.6" fill="#B79F00"/>
<circle cx="570.7" cy="667.2" r="4.6" fill="#B79F00"/>
<circle cx="594.0" cy="652.2" r="4.6" fill="#B79F00"/>
<circle cx="556.4" cy="619.8" r="4.6" fill="#B79F00"/>
<circle cx="550.4" cy="641.0" r="4.6" fill="#B79F00"/>
<circle cx="588.8" cy="671.0" r="4.6" fill="#B79F00"/>
<circle cx="658.7" cy="650.4" r="4.6" fill="#B79F00"/>
<circle cx="612.1" cy="677.0" r="4.6" fill="#B79F00"/>
<circle cx="660.9" cy="626.3" r="4.6" fill="#B79F00"/>
<circle cx="641.8" cy="629.8" r="4.6" fill="#B79F00"/>
<circle cx="657.3" cy="635.0" r="4.6" fill="#B79F00"/>
<circle cx="627.8" cy="636.3" r="4.6" fill="#B79F00"/>
<circle cx="619.8" cy="665.9" r="4.6" fill="#B79F00"/>
<circle cx="636.5" cy="647.1" r="4.6" fill="#B79F00"/>
<circle cx="652.2" cy="650.0" r="4.6" fill="#B79F00"/>
<circle cx="623.1" cy="670.1" r="4.6" fill="#B79F00"/>
<circle cx="609.0" cy="670.9" r="4.6" fill="#B79F00"/>
<circle cx="635.2" cy="634.4" r="4.6" fill="#B79F00"/>
<circle cx="657.8" cy="644.8" r="4.6" fill="#B79F00"/>
<circle cx="650.2" cy="645.7" r="4.6" fill="#B79F00"/>
<circle cx="659.2" cy="622.7" r="4.6" fill="#B79F00"/>
<circle cx="603.6" cy="677.0" r="4.6" fill="#B79F00"/>
<circle cx="586.5" cy="678.5" r="4.6" fill="#B79F00"/>
<circle cx="652.7" cy="635.0" r="4.6" fill="#B79F00"/>
<circle cx="621.7" cy="675.7" r="4.6" fill="#B79F00"/>
<circle cx="594.0" cy="679.4" r="4.6" fill="#B79F00"/>
<circle cx="622.1" cy="641.0" r="4.6" fill="#B79F00"/>
<circle cx="599.2" cy="661.7" r="4.6" fill="#B79F00"/>
<circle cx="610.1" cy="674.3" r="4.6" fill="#B79F00"/>
<circle cx="665.2" cy="626.9" r="4.6" fill="#B79F00"/>
<circle cx="613.9" cy="665.8" r="4.6" fill="#B79F00"/>
<circle cx="613.8" cy="662.9" r="4.6" fill="#B79F00"/>
<circle cx="647.4" cy="623.2" r="4.6" fill="#B79F00"/>
<circle cx="582.8" cy="677.6" r="4.6" fill="#B79F00"/>
<circle cx="645.4" cy="637.3" r="4.6" fill="#B79F00"/>
<circle cx="618.4" cy="661.1" r="4.6" fill="#B79F00"/>
<circle cx="654.0" cy="646.2" r="4.6" fill="#B79F00"/>
<circle cx="653.1" cy="629.6" r="4.6" fill="#B79F00"/>
<circle cx="632.2" cy="659.0" r="4.6" fill="#B79F00"/>
<circle cx="646.0" cy="642.4" r="4.6" fill="#B79F00"/>
<circle cx="605.7" cy="673.9" r="4.6" fill="#B79F00"/>
<circle cx="637.2" cy="642.2" r="4.6" fill="#B79F00"/>
<circle cx="642.1" cy="634.7" r="4.6" fill="#B79F00"/>
<circle cx="625.3" cy="660.9" r="4.6" fill="#B79F00"/>
<circle cx="623.3" cy="666.2" r="4.6" fill="#B79F00"/>
<circle cx="643.4" cy="642.1" r="4.6" fill="#B79F00"/>
<circle cx="662.9" cy="633.5" r="4.6" fill="#B79F00"/>
<circle cx="599.6" cy="656.9" r="4.6" fill="#B79F00"/>
<circle cx="644.8" cy="644.9" r="4.6" fill="#B79F00"/>
<circle cx="667.6" cy="620.4" r="4.6" fill="#B79F00"/>
<circle cx="625.1" cy="657.5" r="4.6" fill="#B79F00"/>
<circle cx="609.0" cy="680.4" r="4.6" fill="#B79F00"/>
<circle cx="648.3" cy="634.7" r="4.6" fill="#B79F00"/>
<circle cx="652.9" cy="638.1" r="4.6" fill="#B79F00"/>
<circle cx="594.7" cy="669.4" r="4.6" fill="#B79F00"/>
<circle cx="635.5" cy="638.2" r="4.6" fill="#B79F00"/>
<circle cx="602.3" cy="661.7" r="4.6" fill="#B79F00"/>
<circle cx="594.0" cy="665.4" r="4.6" fill="#B79F00"/>
<circle cx="656.9" cy="617.8" r="4.6" fill="#B79F00"/>
<circle cx="602.4" cy="680.4" r="4.6" fill="#B79F00"/>
<circle cx="650.6" cy="641.9" r="4.6" fill="#B79F00"/>
<circle cx="614.4" cy="673.2" r="4.6" fill="#B79F00"/>
<circle cx="598.8" cy="670.7" r="4.6" fill="#B79F00"/>
<circle cx="647.3" cy="649.2" r="4.6" fill="#B79F00"/>
<circle cx="645.1" cy="631.1" r="4.6" fill="#B79F00"/>
<circle cx="649.6" cy="637.6" r="4.6" fill="#B79F00"/>
<circle cx="595.9" cy="674.3" r="4.6" fill="#B79F00"/>
<circle cx="607.8" cy="662.9" r="4.6" fill="#B79F00"/>
<circle cx="664.2" cy="622.0" r="4.6" fill="#B79F00"/>
<circle cx="622.1" cy="648.5" r="4.6" fill="#B79F00"/>
<circle cx="611.0" cy="666.4" r="4.6" fill="#B79F00"/>
<circle cx="629.6" cy="666.3" r="4.6" fill="#B79F00"/>
<circle cx="636.2" cy="663.5" r="4.6" fill="#B79F00"/>
<circle cx="620.8" cy="669.6" r="4.6" fill="#B79F00"/>
<circle cx="639.1" cy="648.8" r="4.6" fill="#B79F00"/>
<circle cx="620.2" cy="656.0" r="4.6" fill="#B79F00"/>
<circle cx="639.8" cy="653.2" r="4.6" fill="#B79F00"/>
<circle cx="632.9" cy="641.7" r="4.6" fill="#B79F00"/>
<circle cx="654.0" cy="656.9" r="4.6" fill="#B79F00"/>
<circle cx="626.0" cy="654.7" r="4.6" fill="#B79F00"/>
<circle cx="637.5" cy="657.8" r="4.6" fill="#B79F00"/>
<circle cx="660.3" cy="619.1" r="4.6" fill="#B79F00"/>
<circle cx="617.5" cy="670.6" r="4.6" fill="#B79F00"/>
<circle cx="658.7" cy="640.1" r="4.6" fill="#B79F00"/>
<circle cx="604.8" cy="665.6" r="4.6" fill="#B79F00"/>
<circle cx="591.4" cy="673.5" r="4.6" fill="#B79F00"/>
<circle cx="602.3" cy="674.4" r="4.6" fill="#B79F00"/>
<circle cx="640.9" cy="638.9" r="4.6" fill="#B79F00"/>
<circle cx="658.7" cy="610.1" r="4.6" fill="#B79F00"/>
<circle cx="606.2" cy="657.9" r="4.6" fill="#B79F00"/>
<circle cx="644.6" cy="658.8" r="4.6" fill="#B79F00"/>
<circle cx="623.1" cy="637.2" r="4.6" fill="#B79F00"/>
<circle cx="666.2" cy="615.2" r="4.6" fill="#B79F00"/>
<circle cx="596.5" cy="666.0" r="4.6" fill="#B79F00"/>
<circle cx="650.6" cy="630.8" r="4.6" fill="#B79F00"/>
<circle cx="601.5" cy="665.8" r="4.6" fill="#B79F00"/>
<circle cx="612.1" cy="670.5" r="4.6" fill="#B79F00"/>
<circle cx="613.7" cy="659.8" r="4.6" fill="#B79F00"/>
<circle cx="648.8" cy="616.6" r="4.6" fill="#B79F00"/>
<circle cx="658.0" cy="630.7" r="4.6" fill="#B79F00"/>
<circle cx="631.2" cy="661.1" r="4.6" fill="#B79F00"/>
<circle cx="641.8" cy="649.0" r="4.6" fill="#B79F00"/>
<circle cx="586.5" cy="669.1" r="4.6" fill="#B79F00"/>
<circle cx="603.0" cy="670.3" r="4.6" fill="#B79F00"/>
<circle cx="644.1" cy="654.2" r="4.6" fill="#B79F00"/>
<circle cx="641.3" cy="646.4" r="4.6" fill="#B79F00"/>
<circle cx="588.0" cy="674.6" r="4.6" fill="#B79F00"/>
<circle cx="616.5" cy="634.9" r="4.6" fill="#B79F00"/>
<circle cx="651.2" cy="611.0" r="4.6" fill="#B79F00"/>
<circle cx="616.5" cy="678.5" r="4.6" fill="#B79F00"/>
<circle cx="599.2" cy="677.2" r="4.6" fill="#B79F00"/>
<circle cx="653.5" cy="615.2" r="4.6" fill="#B79F00"/>
<circle cx="620.7" cy="661.4" r="4.6" fill="#B79F00"/>
<circle cx="628.8" cy="658.8" r="4.6" fill="#B79F00"/>
<circle cx="650.5" cy="653.6" r="4.6" fill="#B79F00"/>
<circle cx="583.2" cy="564.9" r="4.6" fill="#B79F00"/>
<circle cx="588.4" cy="563.0" r="4.6" fill="#B79F00"/>
<circle cx="593.5" cy="562.1" r="4.6" fill="#B79F00"/>
<circle cx="595.4" cy="567.2" r="4.6" fill="#B79F00"/>
<circle cx="595.9" cy="574.8" r="4.6" fill="#B79F00"/>
<circle cx="603.4" cy="572.9" r="4.6" fill="#B79F00"/>
<circle cx="606.2" cy="575.2" r="4.6" fill="#B79F00"/>
<circle cx="603.4" cy="576.6" r="4.6" fill="#B79F00"/>
<circle cx="612.8" cy="566.8" r="4.6" fill="#B79F00"/>
<circle cx="616.5" cy="564.4" r="4.6" fill="#B79F00"/>
<circle cx="623.1" cy="560.2" r="4.6" fill="#B79F00"/>
<circle cx="621.7" cy="566.3" r="4.6" fill="#B79F00"/>
<circle cx="616.0" cy="569.1" r="4.6" fill="#B79F00"/>
<circle cx="578.1" cy="585.5" r="4.6" fill="#B79F00"/>
<circle cx="581.3" cy="583.2" r="4.6" fill="#B79F00"/>
<circle cx="601.0" cy="601.3" r="4.6" fill="#B79F00"/>
<circle cx="570.4" cy="607.6" r="4.6" fill="#B79F00"/>
<circle cx="570.6" cy="595.8" r="4.6" fill="#B79F00"/>
<circle cx="574.3" cy="598.2" r="4.6" fill="#B79F00"/>
<circle cx="580.9" cy="600.1" r="4.6" fill="#B79F00"/>
<circle cx="581.3" cy="602.9" r="4.6" fill="#B79F00"/>
<circle cx="589.3" cy="600.1" r="4.6" fill="#B79F00"/>
<circle cx="651.2" cy="610.4" r="4.6" fill="#B79F00"/>
<circle cx="658.7" cy="610.4" r="4.6" fill="#B79F00"/>
<circle cx="666.2" cy="615.1" r="4.6" fill="#B79F00"/>
<circle cx="609.9" cy="615.1" r="4.6" fill="#B79F00"/>
<circle cx="617.4" cy="615.1" r="4.6" fill="#B79F00"/>
<circle cx="630.6" cy="616.0" r="4.6" fill="#B79F00"/>
<circle cx="537.3" cy="635.8" r="4.6" fill="#B79F00"/>
<circle cx="548.1" cy="660.7" r="4.6" fill="#B79F00"/>
<circle cx="513.2" cy="541.5" r="4.6" fill="#7F7F7F"/>
<circle cx="493.1" cy="547.4" r="4.6" fill="#7F7F7F"/>
<circle cx="522.3" cy="551.5" r="4.6" fill="#7F7F7F"/>
<circle cx="415.4" cy="601.5" r="4.6" fill="#7F7F7F"/>
<circle cx="440.1" cy="615.1" r="4.6" fill="#7F7F7F"/>
<circle cx="486.5" cy="612.7" r="4.6" fill="#7F7F7F"/>
<circle cx="502.2" cy="542.4" r="4.6" fill="#00BA38"/>
<circle cx="508.5" cy="564.0" r="4.6" fill="#00BA38"/>
<circle cx="413.6" cy="610.4" r="4.6" fill="#00BA38"/>
<circle cx="440.4" cy="616.2" r="4.6" fill="#7F7F7F"/>
<circle cx="436.6" cy="633.0" r="4.6" fill="#7F7F7F"/>
<circle cx="449.0" cy="637.2" r="4.6" fill="#7F7F7F"/>
<circle cx="435.4" cy="622.1" r="4.6" fill="#00BA38"/>
<circle cx="654.9" cy="607.1" r="4.6" fill="#7F7F7F"/>
<circle cx="590.2" cy="680.4" r="4.6" fill="#7F7F7F"/>
<circle cx="520.7" cy="564.0" r="4.6" fill="#7F7F7F"/>
<circle cx="512.3" cy="607.6" r="4.6" fill="#7F7F7F"/>
<circle cx="542.8" cy="604.8" r="4.6" fill="#7F7F7F"/>
<circle cx="432.1" cy="608.5" r="4.6" fill="#7F7F7F"/>
<circle cx="439.2" cy="582.2" r="4.6" fill="#7F7F7F"/>
<circle cx="472.9" cy="546.6" r="4.6" fill="#00BA38"/>
<circle cx="516.5" cy="564.9" r="4.6" fill="#B79F00"/>
<circle cx="512.3" cy="612.1" r="4.6" fill="#B79F00"/>
<circle cx="538.5" cy="604.8" r="4.6" fill="#B79F00"/>
<circle cx="436.3" cy="605.7" r="4.6" fill="#B79F00"/>
<circle cx="434.9" cy="612.7" r="4.6" fill="#B79F00"/>
<circle cx="443.4" cy="583.2" r="4.6" fill="#B79F00"/>
<circle cx="468.7" cy="546.2" r="4.6" fill="#B79F00"/>
<circle cx="469.6" cy="550.4" r="4.6" fill="#B79F00"/>
<circle cx="564.0" cy="590.2" r="4.6" fill="#7F7F7F"/>
<circle cx="579.5" cy="596.8" r="4.6" fill="#7F7F7F"/>
<circle cx="552.3" cy="606.6" r="4.6" fill="#7F7F7F"/>
<circle cx="542.0" cy="605.2" r="4.6" fill="#7F7F7F"/>
<circle cx="559.5" cy="589.8" r="4.6" fill="#B79F00"/>
<circle cx="580.9" cy="600.5" r="4.6" fill="#B79F00"/>
<circle cx="556.5" cy="609.9" r="4.6" fill="#B79F00"/>
<circle cx="537.9" cy="605.2" r="4.6" fill="#B79F00"/>
<circle cx="574.3" cy="598.2" r="4.6" fill="#B79F00"/>
<circle cx="622.1" cy="658.3" r="4.6" fill="#7F7F7F"/>
<circle cx="659.6" cy="611.9" r="4.6" fill="#7F7F7F"/>
<circle cx="623.7" cy="658.3" r="4.6" fill="#B79F00"/>
<circle cx="655.4" cy="614.3" r="4.6" fill="#B79F00"/>
<circle cx="664.3" cy="614.8" r="4.6" fill="#B79F00"/>
<circle cx="654.9" cy="607.1" r="4.6" fill="#7F7F7F"/>
<circle cx="400.0" cy="649.8" r="4.6" fill="#B79F00"/>
</g>
<g stroke="#000" stroke-width="2.85" fill="none" stroke-linecap="butt">
<path d="M140.7 88.5V838.9"/>
<path d="M139.3 837.5H1243.4"/>
<path d="M131.5 284.9H141M131.5 540H141M131.5 795.7H141"/>
<path d="M192.9 837V846.8M534.2 837V846.8M875.6 837V846.8M1217 837V846.8"/>
</g>
<text class="ttl" x="691.5" y="62" text-anchor="middle">gate_celltype</text>
<g class="tk" text-anchor="end">
<text x="123.5" y="296.5">10</text>
<text x="123.5" y="551.5">0</text>
<text x="123.5" y="807.2">-10</text>
</g>
<g class="tk" text-anchor="middle">
<text x="192.9" y="876.3">-10</text>
<text x="534.2" y="876.3">0</text>
<text x="875.6" y="876.3">10</text>
<text x="1217" y="876.3">20</text>
</g>
<text class="ax" x="691.5" y="919" text-anchor="middle">harmonyumap_1</text>
<text class="ax" transform="translate(59.3,463) rotate(-90)" text-anchor="middle">harmonyumap_2</text>
<g>
<circle cx="1299.7" cy="340.7" r="10.8" fill="#F8766D"/>
<circle cx="1299.7" cy="381.6" r="10.8" fill="#B79F00"/>
<circle cx="1299.7" cy="422.5" r="10.8" fill="#00BA38"/>
<circle cx="1299.7" cy="463.4" r="10.8" fill="#00BFC4"/>
<circle cx="1299.7" cy="504.3" r="10.8" fill="#619CFF"/>
<circle cx="1299.7" cy="545.2" r="10.8" fill="#F564E3"/>
<circle cx="1299.7" cy="586.1" r="10.8" fill="#7F7F7F"/>
</g>
<g class="lg">
<text x="1338.7" y="352">B cells</text>
<text x="1338.7" y="392.9">CD4 T cells</text>
<text x="1338.7" y="433.8">CD8 T cells</text>
<text x="1338.7" y="474.7">Monocytes</text>
<text x="1338.7" y="515.6">NK cells</text>
<text x="1338.7" y="556.5">Platelets</text>
<text x="1338.7" y="597.4">NA</text>
</g>
</svg>
</body></html>
